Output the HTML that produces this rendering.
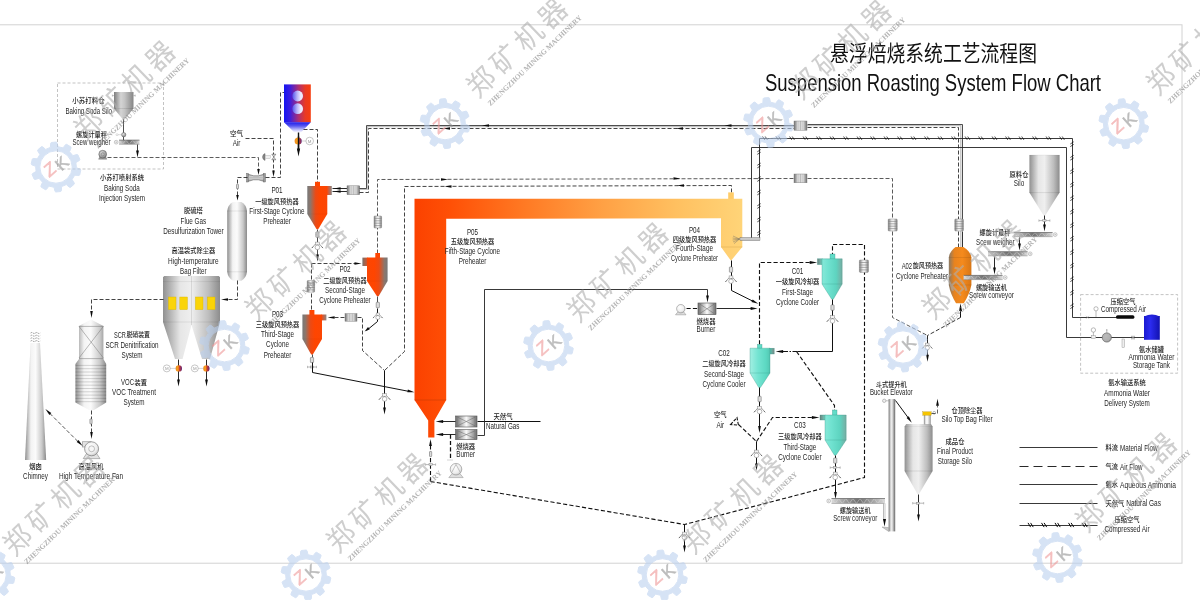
<!DOCTYPE html>
<html lang="zh">
<head>
<meta charset="utf-8">
<title>悬浮焙烧系统工艺流程图 Suspension Roasting System Flow Chart</title>
<style>
html,body{margin:0;padding:0;background:#fff;}
body{width:1200px;height:600px;overflow:hidden;}
svg{display:block;will-change:transform;font-family:"Liberation Sans","Noto Sans CJK SC",sans-serif;}
.wm{font-family:"Liberation Sans","Noto Sans CJK SC",sans-serif;}
.wms{font-family:"Liberation Serif","Noto Serif CJK SC",serif;}
</style>
</head>
<body>
<svg width="1200" height="600" viewBox="0 0 1200 600">
<defs>
<linearGradient id="gCyl" x1="0" x2="1" y1="0" y2="0">
 <stop offset="0" stop-color="#8f8f8f"/><stop offset="0.28" stop-color="#f3f3f3"/><stop offset="0.5" stop-color="#fbfbfb"/><stop offset="0.8" stop-color="#c9c9c9"/><stop offset="1" stop-color="#8a8a8a"/>
</linearGradient>
<linearGradient id="gCylB" x1="0" x2="1" y1="0" y2="0">
 <stop offset="0" stop-color="#909090"/><stop offset="0.3" stop-color="#e6e6e6"/><stop offset="0.5" stop-color="#efefef"/><stop offset="0.8" stop-color="#bdbdbd"/><stop offset="1" stop-color="#8c8c8c"/>
</linearGradient>
<linearGradient id="gCylD" x1="0" x2="1" y1="0" y2="0">
 <stop offset="0" stop-color="#7e7e7e"/><stop offset="0.35" stop-color="#d4d4d4"/><stop offset="0.55" stop-color="#c4c4c4"/><stop offset="1" stop-color="#858585"/>
</linearGradient>
<radialGradient id="gBallD" cx="0.4" cy="0.35" r="0.8">
 <stop offset="0" stop-color="#e4e4e4"/><stop offset="1" stop-color="#6c6c6c"/>
</radialGradient>
<linearGradient id="gCylH" x1="0" x2="1" y1="0" y2="0">
 <stop offset="0" stop-color="#7c7c7c"/><stop offset="0.4" stop-color="#f2f2f2"/><stop offset="0.6" stop-color="#f2f2f2"/><stop offset="1" stop-color="#7c7c7c"/>
</linearGradient>
<linearGradient id="gExH" x1="0" x2="1" y1="0" y2="0">
 <stop offset="0" stop-color="#6f6f6f"/><stop offset="0.35" stop-color="#eeeeee"/><stop offset="0.65" stop-color="#eeeeee"/><stop offset="1" stop-color="#6f6f6f"/>
</linearGradient>
<linearGradient id="gScrew" x1="0" x2="0" y1="0" y2="1">
 <stop offset="0" stop-color="#9a9a9a"/><stop offset="0.5" stop-color="#e6e6e6"/><stop offset="1" stop-color="#8a8a8a"/>
</linearGradient>
<linearGradient id="gScrewH" x1="0" x2="1" y1="0" y2="0">
 <stop offset="0" stop-color="#d8d8d8"/><stop offset="0.2" stop-color="#a8a8a8"/><stop offset="0.5" stop-color="#707070"/><stop offset="0.8" stop-color="#a8a8a8"/><stop offset="1" stop-color="#d8d8d8"/>
</linearGradient>
<linearGradient id="gElev" x1="0" x2="1" y1="0" y2="0">
 <stop offset="0" stop-color="#747474"/><stop offset="0.38" stop-color="#f0f0f0"/><stop offset="0.55" stop-color="#e0e0e0"/><stop offset="1" stop-color="#666666"/>
</linearGradient>
<linearGradient id="gBox" x1="0" x2="1" y1="0" y2="0">
 <stop offset="0" stop-color="#707070"/><stop offset="0.5" stop-color="#fafafa"/><stop offset="1" stop-color="#707070"/>
</linearGradient>
<radialGradient id="gBall" cx="0.4" cy="0.35" r="0.8">
 <stop offset="0" stop-color="#ffffff"/><stop offset="0.6" stop-color="#ededed"/><stop offset="1" stop-color="#b4b4b4"/>
</radialGradient>
<linearGradient id="gHot" x1="0" x2="1" y1="0" y2="0">
 <stop offset="0" stop-color="#f08a1c"/><stop offset="0.4" stop-color="#f5a020"/><stop offset="0.55" stop-color="#d84424"/><stop offset="1" stop-color="#5c2280"/>
</linearGradient>
<linearGradient id="gP" x1="0" x2="1" y1="0" y2="0">
 <stop offset="0" stop-color="#787878"/><stop offset="0.15" stop-color="#8c766c"/><stop offset="0.42" stop-color="#ec4a14"/><stop offset="0.65" stop-color="#ff4500"/><stop offset="1" stop-color="#fb4604"/>
</linearGradient>
<linearGradient id="gPI" x1="0" x2="1" y1="0" y2="0">
 <stop offset="0" stop-color="#f04a18"/><stop offset="1" stop-color="#8a8684"/>
</linearGradient>
<linearGradient id="gPL" x1="0" x2="1" y1="0" y2="0">
 <stop offset="0" stop-color="#fb4604"/><stop offset="0.35" stop-color="#ff4500"/><stop offset="0.58" stop-color="#ec4a14"/><stop offset="0.85" stop-color="#8c766c"/><stop offset="1" stop-color="#787878"/>
</linearGradient>
<linearGradient id="gPLI" x1="0" x2="1" y1="0" y2="0">
 <stop offset="0" stop-color="#77706c"/><stop offset="1" stop-color="#d4562c"/>
</linearGradient>
<linearGradient id="gC" x1="0" x2="1" y1="0" y2="0">
 <stop offset="0" stop-color="#a2efe2"/><stop offset="0.4" stop-color="#74e4d2"/><stop offset="0.8" stop-color="#5cd8c2"/><stop offset="1" stop-color="#54c6b2"/>
</linearGradient>
<linearGradient id="gCI" x1="0" x2="1" y1="0" y2="0">
 <stop offset="0" stop-color="#4fc9b4"/><stop offset="1" stop-color="#7d8a88"/>
</linearGradient>
<linearGradient id="gCL" x1="0" x2="1" y1="0" y2="0">
 <stop offset="0" stop-color="#86e8d8"/><stop offset="0.3" stop-color="#70e2d0"/><stop offset="0.7" stop-color="#5ed4c0"/><stop offset="1" stop-color="#78aca2"/>
</linearGradient>
<linearGradient id="gCLI" x1="0" x2="1" y1="0" y2="0">
 <stop offset="0" stop-color="#6f7f7c"/><stop offset="1" stop-color="#6fd4c2"/>
</linearGradient>
<linearGradient id="gDuct" gradientUnits="userSpaceOnUse" x1="414" x2="742" y1="0" y2="0">
 <stop offset="0" stop-color="#fb4100"/><stop offset="0.11" stop-color="#ff5006"/><stop offset="0.34" stop-color="#ff7a24"/><stop offset="0.57" stop-color="#ffa044"/><stop offset="0.8" stop-color="#ffc060"/><stop offset="1" stop-color="#ffd478"/>
</linearGradient>
<linearGradient id="gCol" gradientUnits="userSpaceOnUse" x1="414" x2="446" y1="0" y2="0">
 <stop offset="0" stop-color="#ff5a0c"/><stop offset="0.5" stop-color="#ff4a02"/><stop offset="1" stop-color="#fb4300"/>
</linearGradient>
<linearGradient id="gP4" x1="0" x2="1" y1="0" y2="0">
 <stop offset="0" stop-color="#ffc864"/><stop offset="0.6" stop-color="#ffd67c"/><stop offset="1" stop-color="#ffd070"/>
</linearGradient>
<linearGradient id="gBR" x1="0" x2="1" y1="0" y2="0">
 <stop offset="0" stop-color="#1414f2"/><stop offset="0.22" stop-color="#3a1ee0"/><stop offset="0.55" stop-color="#b03070"/><stop offset="0.8" stop-color="#ea3a22"/><stop offset="1" stop-color="#f63e10"/>
</linearGradient>
<linearGradient id="gBRc" x1="0" x2="0" y1="0" y2="1">
 <stop offset="0" stop-color="#1c1cec"/><stop offset="0.35" stop-color="#5656f0"/><stop offset="0.75" stop-color="#c8c8fa"/><stop offset="1" stop-color="#ffffff"/>
</linearGradient>
<linearGradient id="gLav" x1="0" x2="1" y1="0" y2="0">
 <stop offset="0" stop-color="#5252ee"/><stop offset="0.45" stop-color="#b8b4f8"/><stop offset="0.8" stop-color="#f0eeff"/><stop offset="1" stop-color="#e6dcf6"/>
</linearGradient>
<linearGradient id="gA02" x1="0" x2="1" y1="0" y2="0">
 <stop offset="0" stop-color="#8a7a66"/><stop offset="0.25" stop-color="#e8831e"/><stop offset="0.6" stop-color="#f58a1c"/><stop offset="1" stop-color="#d77616"/>
</linearGradient>
<linearGradient id="gTank" x1="0" x2="1" y1="0" y2="0">
 <stop offset="0" stop-color="#1a1ad0"/><stop offset="0.4" stop-color="#2b2bf0"/><stop offset="1" stop-color="#1212b0"/>
</linearGradient>
</defs>
<rect x="-10" y="24.8" width="1192" height="538.4" fill="#fff" stroke="#d2d2d2" stroke-width="1"/>
<text x="830" y="60.5" font-size="22" textLength="207" lengthAdjust="spacingAndGlyphs" fill="#111">悬浮焙烧系统工艺流程图</text>
<text x="765" y="91.4" font-size="24" textLength="336" lengthAdjust="spacingAndGlyphs" fill="#111">Suspension Roasting System Flow Chart</text>
<rect x="57.5" y="83" width="106" height="86" fill="none" stroke="#9a9a9a" stroke-width="0.6" stroke-dasharray="3 2"/>
<polygon points="114,92 133.5,92 133.5,108.5 124.3,119.8 123.1,119.8 114,108.5" fill="url(#gCylD)"/>
<line x1="114" y1="108.5" x2="133.5" y2="108.5" stroke="#00000030" stroke-width="0.5"/>
<path d="M112.4 95.6 H114 M133.5 95.6 H135.2 M112.4 94.6 V96.6 M135.2 94.6 V96.6" stroke="#888" stroke-width="0.5" fill="none"/>
<polyline points="123.5,119.5 123.5,140.5" fill="none" stroke="#222" stroke-width="0.8" />
<circle cx="123.7" cy="134.7" r="2.2" fill="url(#gBallD)" stroke="#555" stroke-width="0.4"/>
<circle cx="117" cy="134.7" r="1.0" fill="#fff" stroke="#aaa" stroke-width="0.4"/>
<line x1="118" y1="134.7" x2="121.5" y2="134.7" stroke="#aaa" stroke-width="0.4"/>
<rect x="119" y="140.1" width="20.5" height="4.2" fill="url(#gScrewH)"/>
<polyline points="119.0,140.1 122.4,144.3 125.8,140.1 129.2,144.3 132.7,140.1 136.1,144.3 139.5,140.1" fill="none" stroke="#e2e2e2" stroke-width="0.5" stroke-opacity="0.85"/>
<line x1="119" y1="140.1" x2="139.5" y2="140.1" stroke="#4c4c4c" stroke-width="0.6"/>
<line x1="119" y1="144.29999999999998" x2="139.5" y2="144.29999999999998" stroke="#8a8a8a" stroke-width="0.5"/>
<circle cx="116.2" cy="142.2" r="1.9" fill="#f0f0f0" stroke="#9a9a9a" stroke-width="0.5"/>
<circle cx="116.2" cy="142.2" r="0.6" fill="#aaa"/>
<polyline points="137.5,144.5 137.5,152.5" fill="none" stroke="#111" stroke-width="0.8" />
<polygon points="137.5,157.4 136.1,150.4 138.9,150.4" fill="#0c0c0c"/>
<polygon points="98.6,159.2 106.8,159.2 105.4,156.4 100,156.4" fill="#9a9a9a" stroke="#666" stroke-width="0.4"/>
<circle cx="102.7" cy="154.2" r="3.9" fill="url(#gBallD)" stroke="#5a5a5a" stroke-width="0.5"/>
<circle cx="102.7" cy="154.2" r="1.6" fill="#b8b8b8" stroke="#666" stroke-width="0.4"/>
<polyline points="107.5,157.5 258.5,157.5 258.5,169.5" fill="none" stroke="#4a4a4a" stroke-width="0.9" stroke-dasharray="4 2" />
<polygon points="258.5,175.0 257.2,169.0 259.8,169.0" fill="#0c0c0c"/>
<text x="72.2" y="102.8" font-size="7.0" font-weight="500" textLength="32.5" lengthAdjust="spacingAndGlyphs" fill="#1a1a1a" >小苏打料仓</text>
<text x="65.5" y="114.0" font-size="9.0" textLength="46.5" lengthAdjust="spacingAndGlyphs" fill="#262626" >Baking Soda Silo</text>
<text x="76.0" y="136.5" font-size="7.0" font-weight="500" textLength="31.0" lengthAdjust="spacingAndGlyphs" fill="#1a1a1a" >螺旋计量秤</text>
<text x="72.5" y="145.0" font-size="9.0" textLength="38.0" lengthAdjust="spacingAndGlyphs" fill="#262626" >Scew weigher</text>
<text x="100.0" y="179.5" font-size="7.0" font-weight="500" textLength="44.0" lengthAdjust="spacingAndGlyphs" fill="#1a1a1a" >小苏打喷射系统</text>
<text x="104.1" y="190.5" font-size="9.0" textLength="35.7" lengthAdjust="spacingAndGlyphs" fill="#262626" >Baking Soda</text>
<text x="98.9" y="200.5" font-size="9.0" textLength="46.2" lengthAdjust="spacingAndGlyphs" fill="#262626" >Injection System</text>
<text x="230.0" y="135.5" font-size="7.0" font-weight="500" textLength="13.0" lengthAdjust="spacingAndGlyphs" fill="#1a1a1a" >空气</text>
<text x="232.7" y="145.5" font-size="9.0" textLength="7.7" lengthAdjust="spacingAndGlyphs" fill="#262626" >Air</text>
<polyline points="245.5,138.5 273.5,138.5 273.5,171.5" fill="none" stroke="#222" stroke-width="0.85" stroke-dasharray="4 2" />
<polygon points="273.5,177.0 272.2,170.4 274.8,170.4" fill="#0c0c0c"/>
<path d="M265 153.6 A3.6 3.6 0 0 0 265 160.4 Z" fill="#8a8a8a" stroke="#555" stroke-width="0.5"/>
<rect x="265.4" y="155.4" width="4.8" height="3.2" fill="#f0f0f0" stroke="#aaa" stroke-width="0.4"/>
<polygon points="271.8,154.2 275.8,154.2 273.8,157 275.8,159.8 271.8,159.8 273.8,157" fill="#e4e4e4" stroke="#444" stroke-width="0.5"/>
<path d="M247.4 174 L253.6 175.8 L258.4 175.8 L264.6 174 L264.6 181.6 L258.4 179.8 L253.6 179.8 L247.4 181.6 Z" fill="url(#gScrew)" stroke="#555" stroke-width="0.5"/>
<rect x="246.6" y="173.6" width="1.6" height="8.4" fill="#9a9a9a" stroke="#555" stroke-width="0.4"/><rect x="263.8" y="173.6" width="1.6" height="8.4" fill="#9a9a9a" stroke="#555" stroke-width="0.4"/>
<line x1="249" y1="177.8" x2="263" y2="177.8" stroke="#666" stroke-width="0.4"/>
<polyline points="247.5,177.5 237.5,177.5 237.5,195.5" fill="none" stroke="#222" stroke-width="0.85" stroke-dasharray="4 2" />
<rect x="236.5" y="184.2" width="2.0" height="4.6" rx="0.6" fill="#dcdcdc" stroke="#6a6a6a" stroke-width="0.55"/>
<polygon points="237.5,200.5 236.2,195.0 238.8,195.0" fill="#0c0c0c"/>
<polyline points="265.5,177.5 280.5,177.5 280.5,92.5 284.5,92.5" fill="none" stroke="#222" stroke-width="0.85" stroke-dasharray="4 2" />
<rect x="284" y="84.4" width="26.8" height="38" fill="url(#gBR)"/>
<polygon points="284,122.2 310.8,122.2 300.7,132.7 294.7,132.7" fill="url(#gBRc)"/>
<circle cx="297.7" cy="96" r="5.4" fill="url(#gLav)"/><circle cx="297.7" cy="108.7" r="5.4" fill="url(#gLav)"/>
<polyline points="298.5,132.5 298.5,150.5" fill="none" stroke="#111" stroke-width="1.4" />
<polygon points="298.5,156.6 296.9,148.6 300.1,148.6" fill="#0c0c0c"/>
<circle cx="298.2" cy="141" r="3.6" fill="url(#gHot)"/>
<polyline points="298.5,136.5 298.5,150.5" fill="none" stroke="#111" stroke-width="1.4" />
<circle cx="309.7" cy="141" r="3.8" fill="#fff" stroke="#999" stroke-width="0.55"/>
<text x="309.7" y="142.6" font-size="4.4" text-anchor="middle" fill="#999">M</text>
<line x1="301.2" y1="141" x2="306" y2="141" stroke="#aaa" stroke-width="0.5"/>
<polyline points="303.5,129.5 317.5,129.5 317.5,182.5" fill="none" stroke="#222" stroke-width="0.85" stroke-dasharray="4 2" />
<rect x="315" y="181.8" width="5" height="4.699999999999989" fill="#ff4500"/>
<rect x="326.8" y="186" width="5.0" height="9" fill="url(#gPI)"/>
<polygon points="307.3,186.0 327.3,186.0 327.3,214.0 318.2,229.3 316.6,229.3 307.3,214.0" fill="url(#gP)"/>
<line x1="307.3" y1="214" x2="327.3" y2="214" stroke="#00000022" stroke-width="0.5" stroke-opacity="0.5"/>
<rect x="315.79999999999995" y="231.9" width="3.2" height="5.4" rx="0.6" fill="#dcdcdc" stroke="#6a6a6a" stroke-width="0.55"/>
<polyline points="317.5,229.5 317.5,231.5" fill="none" stroke="#222" stroke-width="0.8" />
<polyline points="317.5,237.5 317.5,256.5" fill="none" stroke="#222" stroke-width="0.8" />
<path d="M316.0 243.4 L312.0 247.9 M318.8 243.4 L322.8 247.9" stroke="#999" stroke-width="0.90" fill="none"/>
<path d="M311.8 248.1 l1.3 -1.4 M323.0 248.1 l-1.3 -1.4" stroke="#666" stroke-width="0.90" fill="none"/>
<rect x="315.5" y="242.1" width="3.8" height="2.8" fill="#f2f2f2" stroke="#8a8a8a" stroke-width="0.5"/>
<circle cx="317.4" cy="247.4" r="2.3" fill="#fff" stroke="#8a8a8a" stroke-width="0.6"/>
<polygon points="317.5,261.5 316.1,254.5 318.9,254.5" fill="#0c0c0c"/>
<text x="271.4" y="192.5" font-size="9.0" textLength="11.2" lengthAdjust="spacingAndGlyphs" fill="#262626" >P01</text>
<text x="255.2" y="203.5" font-size="7.0" font-weight="500" textLength="43.5" lengthAdjust="spacingAndGlyphs" fill="#1a1a1a" >一级旋风预热器</text>
<text x="249.3" y="214.0" font-size="9.0" textLength="55.3" lengthAdjust="spacingAndGlyphs" fill="#262626" >First-Stage Cyclone</text>
<text x="263.2" y="224.0" font-size="9.0" textLength="27.7" lengthAdjust="spacingAndGlyphs" fill="#262626" >Preheater</text>
<polyline points="332.5,188.5 347.5,188.5" fill="none" stroke="#111" stroke-width="0.9" />
<polyline points="332.5,191.5 347.5,191.5" fill="none" stroke="#111" stroke-width="0.9" />
<polygon points="333.6,188.5 340.6,187.2 340.6,189.8" fill="#0c0c0c"/>
<polygon points="333.6,191.5 340.6,190.2 340.6,192.8" fill="#0c0c0c"/>
<rect x="347" y="185.8" width="12.800000000000011" height="8.899999999999977" fill="url(#gExH)" stroke="#777" stroke-width="0.4"/>
<line x1="351.79999999999995" y1="185.8" x2="351.79999999999995" y2="194.7" stroke="#8a8a8a" stroke-width="0.5"/>
<line x1="353.4" y1="185.8" x2="353.4" y2="194.7" stroke="#8a8a8a" stroke-width="0.5"/>
<line x1="355.0" y1="185.8" x2="355.0" y2="194.7" stroke="#8a8a8a" stroke-width="0.5"/>
<polyline points="359.8,189.4 367.2,189.4 367.2,126.7 794.0,126.7" fill="none" stroke="#c2c2c2" stroke-width="1.3" />
<polyline points="807.0,125.6 960.8,125.6 960.8,219.0" fill="none" stroke="#c2c2c2" stroke-width="1.3" />
<polyline points="960.8,231.0 960.8,247.0" fill="none" stroke="#c2c2c2" stroke-width="1.3" />
<polyline points="359.5,188.5 366.5,188.5 366.5,125.5 794.5,125.5" fill="none" stroke="#444" stroke-width="0.95" />
<polyline points="359.5,192.5 368.5,192.5 368.5,128.5 794.5,128.5" fill="none" stroke="#222" stroke-width="0.85" stroke-dasharray="4 2" />
<rect x="794" y="121" width="13" height="9.199999999999989" fill="url(#gExH)" stroke="#777" stroke-width="0.4"/>
<line x1="798.9" y1="121" x2="798.9" y2="130.2" stroke="#8a8a8a" stroke-width="0.5"/>
<line x1="800.5" y1="121" x2="800.5" y2="130.2" stroke="#8a8a8a" stroke-width="0.5"/>
<line x1="802.1" y1="121" x2="802.1" y2="130.2" stroke="#8a8a8a" stroke-width="0.5"/>
<polyline points="807.5,124.5 962.5,124.5 962.5,219.5" fill="none" stroke="#444" stroke-width="0.95" />
<polyline points="807.5,127.5 958.5,127.5 958.5,219.5" fill="none" stroke="#222" stroke-width="0.85" stroke-dasharray="4 2" />
<rect x="954.8" y="219" width="8.600000000000023" height="12" rx="0.8" fill="url(#gCylH)" stroke="#777" stroke-width="0.4"/>
<line x1="954.8" y1="221.4" x2="963.4" y2="221.4" stroke="#7d7d7d" stroke-width="0.6"/>
<line x1="954.8" y1="223.8" x2="963.4" y2="223.8" stroke="#7d7d7d" stroke-width="0.6"/>
<line x1="954.8" y1="226.2" x2="963.4" y2="226.2" stroke="#7d7d7d" stroke-width="0.6"/>
<line x1="954.8" y1="228.6" x2="963.4" y2="228.6" stroke="#7d7d7d" stroke-width="0.6"/>
<polyline points="962.5,231.5 962.5,247.5" fill="none" stroke="#333" stroke-width="1.0" />
<polyline points="958.5,231.5 958.5,247.5" fill="none" stroke="#222" stroke-width="0.85" stroke-dasharray="4 2" />
<polygon points="482.0,125.5 489.0,124.2 489.0,126.8" fill="#0c0c0c"/>
<polygon points="724.5,125.5 731.5,124.2 731.5,126.8" fill="#0c0c0c"/>
<polygon points="443.0,128.5 450.0,127.2 450.0,129.8" fill="#0c0c0c"/>
<polygon points="676.0,128.5 683.0,127.2 683.0,129.8" fill="#0c0c0c"/>
<polyline points="377.5,253.5 377.5,179.5 794.5,178.5" fill="none" stroke="#5a5a5a" stroke-width="1.0" stroke-dasharray="4 2" />
<polyline points="807.5,178.5 892.5,178.5 892.5,219.5" fill="none" stroke="#5a5a5a" stroke-width="1.0" stroke-dasharray="4 2" />
<rect x="794" y="174" width="13" height="8.800000000000011" fill="url(#gExH)" stroke="#777" stroke-width="0.4"/>
<line x1="798.9" y1="174" x2="798.9" y2="182.8" stroke="#8a8a8a" stroke-width="0.5"/>
<line x1="800.5" y1="174" x2="800.5" y2="182.8" stroke="#8a8a8a" stroke-width="0.5"/>
<line x1="802.1" y1="174" x2="802.1" y2="182.8" stroke="#8a8a8a" stroke-width="0.5"/>
<rect x="374" y="216" width="7.600000000000023" height="12" rx="0.8" fill="url(#gCylH)" stroke="#777" stroke-width="0.4"/>
<line x1="374" y1="218.4" x2="381.6" y2="218.4" stroke="#7d7d7d" stroke-width="0.6"/>
<line x1="374" y1="220.8" x2="381.6" y2="220.8" stroke="#7d7d7d" stroke-width="0.6"/>
<line x1="374" y1="223.2" x2="381.6" y2="223.2" stroke="#7d7d7d" stroke-width="0.6"/>
<line x1="374" y1="225.6" x2="381.6" y2="225.6" stroke="#7d7d7d" stroke-width="0.6"/>
<rect x="888.2" y="219" width="9.0" height="12" rx="0.8" fill="url(#gCylH)" stroke="#777" stroke-width="0.4"/>
<line x1="888.2" y1="221.4" x2="897.2" y2="221.4" stroke="#7d7d7d" stroke-width="0.6"/>
<line x1="888.2" y1="223.8" x2="897.2" y2="223.8" stroke="#7d7d7d" stroke-width="0.6"/>
<line x1="888.2" y1="226.2" x2="897.2" y2="226.2" stroke="#7d7d7d" stroke-width="0.6"/>
<line x1="888.2" y1="228.6" x2="897.2" y2="228.6" stroke="#7d7d7d" stroke-width="0.6"/>
<polyline points="892.5,231.5 892.5,317.5 927.5,335.5" fill="none" stroke="#5a5a5a" stroke-width="1.0" stroke-dasharray="4 2" />
<polygon points="448.0,179.5 441.0,180.8 441.0,178.2" fill="#0c0c0c"/>
<polygon points="680.5,178.5 673.5,179.8 673.5,177.2" fill="#0c0c0c"/>
<polyline points="731.5,192.5 731.5,185.5 404.5,186.5 404.5,351.5 384.5,370.5" fill="none" stroke="#222" stroke-width="0.85" stroke-dasharray="4 2" />
<polygon points="444.5,186.5 451.5,185.2 451.5,187.8" fill="#0c0c0c"/>
<polygon points="677.0,185.5 684.0,184.2 684.0,186.8" fill="#0c0c0c"/>
<rect x="375.3" y="253" width="4.699999999999989" height="5.100000000000023" fill="#ff4500"/>
<rect x="362.4" y="257.6" width="5.100000000000023" height="8.399999999999977" fill="url(#gPLI)"/>
<polygon points="367.0,257.6 387.6,257.6 387.6,281.0 378.6,296.2 377.0,296.2 367.0,281.0" fill="url(#gPL)"/>
<line x1="367" y1="281" x2="387.6" y2="281" stroke="#00000022" stroke-width="0.5" stroke-opacity="0.5"/>
<text x="339.4" y="272.0" font-size="9.0" textLength="11.2" lengthAdjust="spacingAndGlyphs" fill="#262626" >P02</text>
<text x="323.2" y="283.0" font-size="7.0" font-weight="500" textLength="43.5" lengthAdjust="spacingAndGlyphs" fill="#1a1a1a" >二级旋风预热器</text>
<text x="325.0" y="293.0" font-size="9.0" textLength="39.9" lengthAdjust="spacingAndGlyphs" fill="#262626" >Second-Stage</text>
<text x="319.2" y="303.0" font-size="9.0" textLength="51.5" lengthAdjust="spacingAndGlyphs" fill="#262626" >Cyclone Preheater</text>
<polyline points="377.5,296.5 377.5,302.5" fill="none" stroke="#222" stroke-width="0.8" />
<rect x="376.2" y="302.3" width="3.2" height="5.4" rx="0.6" fill="#dcdcdc" stroke="#6a6a6a" stroke-width="0.55"/>
<polyline points="377.5,308.5 377.5,321.5 366.5,330.5" fill="none" stroke="#111" stroke-width="1.0" />
<path d="M376.6 314.1 L373.2 317.9 M379.0 314.1 L382.4 317.9" stroke="#999" stroke-width="0.77" fill="none"/>
<path d="M373.0 318.1 l1.1 -1.2 M382.6 318.1 l-1.1 -1.2" stroke="#666" stroke-width="0.77" fill="none"/>
<rect x="376.2" y="313.0" width="3.2" height="2.4" fill="#f2f2f2" stroke="#8a8a8a" stroke-width="0.5"/>
<circle cx="377.8" cy="317.5" r="2.0" fill="#fff" stroke="#8a8a8a" stroke-width="0.6"/>
<polygon points="364.6,331.6 368.0,327.1 369.8,329.2" fill="#0c0c0c"/>
<polyline points="311.5,263.5 355.5,263.5" fill="none" stroke="#222" stroke-width="0.85" stroke-dasharray="4 2" />
<polygon points="361.5,263.5 354.5,264.8 354.5,262.2" fill="#0c0c0c"/>
<polyline points="311.5,263.5 311.5,310.5" fill="none" stroke="#222" stroke-width="0.85" stroke-dasharray="4 2" />
<rect x="307.2" y="280.5" width="7.400000000000034" height="11.699999999999989" rx="0.8" fill="url(#gCylH)" stroke="#777" stroke-width="0.4"/>
<line x1="307.2" y1="282.8" x2="314.6" y2="282.8" stroke="#7d7d7d" stroke-width="0.6"/>
<line x1="307.2" y1="285.2" x2="314.6" y2="285.2" stroke="#7d7d7d" stroke-width="0.6"/>
<line x1="307.2" y1="287.5" x2="314.6" y2="287.5" stroke="#7d7d7d" stroke-width="0.6"/>
<line x1="307.2" y1="289.9" x2="314.6" y2="289.9" stroke="#7d7d7d" stroke-width="0.6"/>
<rect x="309.4" y="310" width="5.0" height="5.0" fill="#ff4500"/>
<rect x="321.5" y="314.5" width="4.899999999999977" height="5.899999999999977" fill="url(#gPI)"/>
<polygon points="302.4,314.5 322.0,314.5 322.0,339.0 312.8,354.6 311.2,354.6 302.4,339.0" fill="url(#gP)"/>
<line x1="302.4" y1="339" x2="322" y2="339" stroke="#00000022" stroke-width="0.5" stroke-opacity="0.5"/>
<text x="271.9" y="317.0" font-size="9.0" textLength="11.2" lengthAdjust="spacingAndGlyphs" fill="#262626" >P03</text>
<text x="255.8" y="326.5" font-size="7.0" font-weight="500" textLength="43.5" lengthAdjust="spacingAndGlyphs" fill="#1a1a1a" >三级旋风预热器</text>
<text x="261.0" y="337.0" font-size="9.0" textLength="32.9" lengthAdjust="spacingAndGlyphs" fill="#262626" >Third-Stage</text>
<text x="266.1" y="347.0" font-size="9.0" textLength="22.8" lengthAdjust="spacingAndGlyphs" fill="#262626" >Cyclone</text>
<text x="263.7" y="357.5" font-size="9.0" textLength="27.7" lengthAdjust="spacingAndGlyphs" fill="#262626" >Preheater</text>
<polyline points="334.5,317.5 345.5,317.5" fill="none" stroke="#222" stroke-width="0.85" stroke-dasharray="4 2" />
<polygon points="327.6,317.5 334.6,316.2 334.6,318.8" fill="#0c0c0c"/>
<rect x="345" y="313.6" width="12" height="7.599999999999966" fill="url(#gExH)" stroke="#777" stroke-width="0.4"/>
<line x1="349.4" y1="313.6" x2="349.4" y2="321.2" stroke="#8a8a8a" stroke-width="0.5"/>
<line x1="351.0" y1="313.6" x2="351.0" y2="321.2" stroke="#8a8a8a" stroke-width="0.5"/>
<line x1="352.6" y1="313.6" x2="352.6" y2="321.2" stroke="#8a8a8a" stroke-width="0.5"/>
<polyline points="357.5,317.5 362.5,317.5 362.5,350.5 384.5,370.5" fill="none" stroke="#222" stroke-width="0.85" stroke-dasharray="4 2" />
<polyline points="312.5,354.5 312.5,357.5" fill="none" stroke="#222" stroke-width="0.8" />
<rect x="310.4" y="357.4" width="3.2" height="5.2" rx="0.6" fill="#dcdcdc" stroke="#6a6a6a" stroke-width="0.55"/>
<line x1="307.5" y1="367" x2="316.5" y2="367" stroke="#888" stroke-width="0.6"/>
<rect x="310.4" y="366" width="3.2" height="2" fill="#ddd" stroke="#777" stroke-width="0.4"/>
<line x1="307.5" y1="365.8" x2="307.5" y2="368.2" stroke="#888" stroke-width="0.5"/>
<line x1="316.5" y1="365.8" x2="316.5" y2="368.2" stroke="#888" stroke-width="0.5"/>
<polyline points="312.5,362.5 312.5,372.5 409.5,391.5" fill="none" stroke="#111" stroke-width="1.0" />
<polygon points="414.5,392.2 407.4,392.3 407.9,389.5" fill="#0c0c0c"/>
<polyline points="384.5,370.5 384.5,409.5" fill="none" stroke="#111" stroke-width="1.0" />
<path d="M383.2 395.0 L379.2 399.5 M386.0 395.0 L390.0 399.5" stroke="#999" stroke-width="0.90" fill="none"/>
<path d="M379.0 399.7 l1.3 -1.4 M390.2 399.7 l-1.3 -1.4" stroke="#666" stroke-width="0.90" fill="none"/>
<rect x="382.7" y="393.7" width="3.8" height="2.8" fill="#f2f2f2" stroke="#8a8a8a" stroke-width="0.5"/>
<circle cx="384.6" cy="399.0" r="2.3" fill="#fff" stroke="#8a8a8a" stroke-width="0.6"/>
<polygon points="384.5,414.5 383.1,407.5 385.9,407.5" fill="#0c0c0c"/>
<rect x="728.2" y="192.4" width="5.6" height="6.6" fill="#ffcc68"/>
<polygon points="414.5,198.8 742.3,198.8 742.3,247 731.4,260.2 730.6,260.2 721,247 721,218.2 446.2,218.8 446.2,400 414.5,400" fill="url(#gDuct)"/>
<polygon points="414.5,400 446.2,400 434.4,420.4 434.4,437.4 428.2,437.4 428.2,420.4" fill="url(#gDuct)"/>
<line x1="414.5" y1="400" x2="446.2" y2="400" stroke="#c23a06" stroke-width="0.5"/>
<line x1="721" y1="247" x2="742.3" y2="247" stroke="#d9a850" stroke-width="0.5"/>
<text x="466.9" y="235.0" font-size="9.0" textLength="11.2" lengthAdjust="spacingAndGlyphs" fill="#262626" >P05</text>
<text x="450.8" y="243.8" font-size="7.0" font-weight="500" textLength="43.5" lengthAdjust="spacingAndGlyphs" fill="#1a1a1a" >五级旋风预热器</text>
<text x="444.8" y="254.0" font-size="9.0" textLength="55.3" lengthAdjust="spacingAndGlyphs" fill="#262626" >Fifth-Stage Cyclone</text>
<text x="458.7" y="263.5" font-size="9.0" textLength="27.7" lengthAdjust="spacingAndGlyphs" fill="#262626" >Preheater</text>
<text x="688.9" y="232.5" font-size="9.0" textLength="11.2" lengthAdjust="spacingAndGlyphs" fill="#262626" >P04</text>
<text x="672.8" y="241.5" font-size="7.0" font-weight="500" textLength="43.5" lengthAdjust="spacingAndGlyphs" fill="#1a1a1a" >四级旋风预热器</text>
<text x="676.1" y="251.3" font-size="9.0" textLength="36.8" lengthAdjust="spacingAndGlyphs" fill="#262626" >Fourth-Stage</text>
<text x="671.0" y="260.6" font-size="9.0" textLength="47.0" lengthAdjust="spacingAndGlyphs" fill="#262626" >Cyclone Preheater</text>
<polyline points="731.5,260.5 731.5,290.5 753.5,301.5" fill="none" stroke="#111" stroke-width="1.0" />
<rect x="729.4" y="266.90000000000003" width="3.2" height="5.4" rx="0.6" fill="#dcdcdc" stroke="#6a6a6a" stroke-width="0.55"/>
<path d="M729.6 277.2 L725.6 281.7 M732.4 277.2 L736.4 281.7" stroke="#999" stroke-width="0.90" fill="none"/>
<path d="M725.4 281.9 l1.3 -1.4 M736.6 281.9 l-1.3 -1.4" stroke="#666" stroke-width="0.90" fill="none"/>
<rect x="729.1" y="275.9" width="3.8" height="2.8" fill="#f2f2f2" stroke="#8a8a8a" stroke-width="0.5"/>
<circle cx="731" cy="281.2" r="2.3" fill="#fff" stroke="#8a8a8a" stroke-width="0.6"/>
<polygon points="758.3,303.8 751.4,301.9 752.7,299.4" fill="#0c0c0c"/>
<rect x="455.6" y="416" width="21.399999999999977" height="11" fill="url(#gBox)" stroke="#555" stroke-width="0.6"/>
<line x1="457.6" y1="417.2" x2="475" y2="425.8" stroke="#666" stroke-width="0.5"/>
<line x1="457.6" y1="425.8" x2="475" y2="417.2" stroke="#666" stroke-width="0.5"/>
<line x1="457.6" y1="416" x2="457.6" y2="427" stroke="#777" stroke-width="0.4"/>
<line x1="475" y1="416" x2="475" y2="427" stroke="#777" stroke-width="0.4"/>
<rect x="455.6" y="429.6" width="21.399999999999977" height="10.0" fill="url(#gBox)" stroke="#555" stroke-width="0.6"/>
<line x1="457.6" y1="430.8" x2="475" y2="438.40000000000003" stroke="#666" stroke-width="0.5"/>
<line x1="457.6" y1="438.40000000000003" x2="475" y2="430.8" stroke="#666" stroke-width="0.5"/>
<line x1="457.6" y1="429.6" x2="457.6" y2="439.6" stroke="#777" stroke-width="0.4"/>
<line x1="475" y1="429.6" x2="475" y2="439.6" stroke="#777" stroke-width="0.4"/>
<polyline points="442.5,421.5 455.5,421.5" fill="none" stroke="#111" stroke-width="0.9" />
<polyline points="442.5,434.5 455.5,434.5" fill="none" stroke="#111" stroke-width="0.9" />
<polygon points="435.6,421.5 443.1,420.0 443.1,423.0" fill="#0c0c0c"/>
<polygon points="435.6,434.5 443.1,433.0 443.1,436.0" fill="#0c0c0c"/>
<polyline points="477.5,421.5 540.5,421.5" fill="none" stroke="#111" stroke-width="1.0" />
<polyline points="477.5,435.5 484.5,435.5 484.5,289.5 707.5,289.5 707.5,297.5" fill="none" stroke="#222" stroke-width="0.9" />
<polygon points="707.5,302.6 706.1,295.6 708.9,295.6" fill="#0c0c0c"/>
<text x="493.5" y="418.5" font-size="7.0" font-weight="500" textLength="19.0" lengthAdjust="spacingAndGlyphs" fill="#1a1a1a" >天然气</text>
<text x="486.0" y="429.0" font-size="9.0" textLength="33.5" lengthAdjust="spacingAndGlyphs" fill="#262626" >Natural Gas</text>
<text x="456.2" y="448.5" font-size="7.0" font-weight="500" textLength="19.0" lengthAdjust="spacingAndGlyphs" fill="#1a1a1a" >燃烧器</text>
<text x="456.2" y="457.3" font-size="9.0" textLength="18.9" lengthAdjust="spacingAndGlyphs" fill="#262626" >Burner</text>
<polyline points="450.5,434.5 450.5,459.5" fill="none" stroke="#111" stroke-width="1.25" stroke-dasharray="4.2 2.2" />
<line x1="447" y1="460" x2="453" y2="460" stroke="#aaa" stroke-width="0.5"/>
<polygon points="448.8,477.6 463.2,477.6 458.9,472.4 453.1,472.4" fill="#dedede" stroke="#8a8a8a" stroke-width="0.5"/>
<circle cx="456" cy="469.2" r="5.8" fill="url(#gBall)" stroke="#8a8a8a" stroke-width="0.6"/>
<path d="M456 464.4 L451.6 472.6 M456 464.4 L460.4 472.6" stroke="#9a9a9a" stroke-width="0.6" fill="none"/>
<polyline points="430.5,481.5 430.5,445.5" fill="none" stroke="#111" stroke-width="1.1" stroke-dasharray="4.2 2.2" />
<polygon points="430.5,439.0 431.9,446.0 429.1,446.0" fill="#0c0c0c"/>
<rect x="429.5" y="451.4" width="2.2" height="5.2" rx="0.6" fill="#dcdcdc" stroke="#6a6a6a" stroke-width="0.55"/>
<line x1="425.6" y1="464.6" x2="435.6" y2="464.6" stroke="#888" stroke-width="0.6"/>
<rect x="429.0" y="463.6" width="3.2" height="2" fill="#ddd" stroke="#777" stroke-width="0.4"/>
<line x1="425.6" y1="463.40000000000003" x2="425.6" y2="465.8" stroke="#888" stroke-width="0.5"/>
<line x1="435.6" y1="463.40000000000003" x2="435.6" y2="465.8" stroke="#888" stroke-width="0.5"/>
<polyline points="430.5,481.5 684.5,524.5 864.5,477.5 864.5,244.5 832.5,244.5 832.5,254.5" fill="none" stroke="#111" stroke-width="1.12" stroke-dasharray="4.2 2.2" />
<rect x="859.4" y="260" width="9.0" height="12.399999999999977" rx="0.8" fill="url(#gCylH)" stroke="#777" stroke-width="0.4"/>
<line x1="859.4" y1="262.5" x2="868.4" y2="262.5" stroke="#7d7d7d" stroke-width="0.6"/>
<line x1="859.4" y1="265.0" x2="868.4" y2="265.0" stroke="#7d7d7d" stroke-width="0.6"/>
<line x1="859.4" y1="267.4" x2="868.4" y2="267.4" stroke="#7d7d7d" stroke-width="0.6"/>
<line x1="859.4" y1="269.9" x2="868.4" y2="269.9" stroke="#7d7d7d" stroke-width="0.6"/>
<polyline points="684.5,524.5 684.5,547.5" fill="none" stroke="#111" stroke-width="1.0" />
<path d="M683.1 533.4 L679.1 537.9 M685.9 533.4 L689.9 537.9" stroke="#999" stroke-width="0.90" fill="none"/>
<path d="M678.9 538.1 l1.3 -1.4 M690.1 538.1 l-1.3 -1.4" stroke="#666" stroke-width="0.90" fill="none"/>
<rect x="682.6" y="532.1" width="3.8" height="2.8" fill="#f2f2f2" stroke="#8a8a8a" stroke-width="0.5"/>
<circle cx="684.5" cy="537.4" r="2.3" fill="#fff" stroke="#8a8a8a" stroke-width="0.6"/>
<polygon points="684.5,552.6 683.1,545.6 685.9,545.6" fill="#0c0c0c"/>
<polygon points="675.5,314.8 686.0,314.8 682.9,311.0 678.7,311.0" fill="#dedede" stroke="#8a8a8a" stroke-width="0.5"/>
<circle cx="680.8" cy="308.7" r="4.2" fill="url(#gBall)" stroke="#8a8a8a" stroke-width="0.6"/>
<polyline points="686.5,308.5 698.5,308.5" fill="none" stroke="#111" stroke-width="1.0" stroke-dasharray="4.2 2.2" />
<rect x="698" y="303" width="18" height="11.600000000000023" fill="url(#gBox)" stroke="#555" stroke-width="0.6"/>
<line x1="700" y1="304.2" x2="714" y2="313.40000000000003" stroke="#666" stroke-width="0.5"/>
<line x1="700" y1="313.40000000000003" x2="714" y2="304.2" stroke="#666" stroke-width="0.5"/>
<line x1="700" y1="303" x2="700" y2="314.6" stroke="#777" stroke-width="0.4"/>
<line x1="714" y1="303" x2="714" y2="314.6" stroke="#777" stroke-width="0.4"/>
<polyline points="716.5,308.5 752.5,308.5" fill="none" stroke="#111" stroke-width="0.9" />
<polygon points="757.6,308.5 750.6,309.9 750.6,307.1" fill="#0c0c0c"/>
<text x="696.5" y="324.0" font-size="7.0" font-weight="500" textLength="19.0" lengthAdjust="spacingAndGlyphs" fill="#1a1a1a" >燃烧器</text>
<text x="696.5" y="332.3" font-size="9.0" textLength="18.9" lengthAdjust="spacingAndGlyphs" fill="#262626" >Burner</text>
<polyline points="759.5,344.5 759.5,262.5 811.5,262.5" fill="none" stroke="#111" stroke-width="1.12" stroke-dasharray="4.2 2.2" />
<polygon points="817.2,262.5 809.7,264.0 809.7,261.0" fill="#0c0c0c"/>
<rect x="830" y="254" width="5" height="5.300000000000011" fill="#62dcc8" stroke="#2e8e80" stroke-width="0.45" stroke-opacity="0.7"/>
<rect x="817.4" y="258.8" width="5.100000000000023" height="5.800000000000011" fill="url(#gCLI)" stroke="#2e8e80" stroke-width="0.45" stroke-opacity="0.7"/>
<polygon points="822.0,258.8 842.2,258.8 842.2,284.0 833.3,299.2 831.7,299.2 822.0,284.0" fill="url(#gCL)" stroke="#2e8e80" stroke-width="0.45" stroke-opacity="0.7"/>
<line x1="822" y1="284" x2="842.2" y2="284" stroke="#2e8e80" stroke-width="0.5" stroke-opacity="0.5"/>
<text x="791.7" y="274.0" font-size="9.0" textLength="11.6" lengthAdjust="spacingAndGlyphs" fill="#262626" >C01</text>
<text x="775.8" y="283.5" font-size="7.0" font-weight="500" textLength="43.5" lengthAdjust="spacingAndGlyphs" fill="#1a1a1a" >一级旋风冷却器</text>
<text x="782.1" y="295.0" font-size="9.0" textLength="30.8" lengthAdjust="spacingAndGlyphs" fill="#262626" >First-Stage</text>
<text x="776.0" y="305.0" font-size="9.0" textLength="43.1" lengthAdjust="spacingAndGlyphs" fill="#262626" >Cyclone Cooler</text>
<polyline points="832.5,299.5 832.5,351.5 797.5,351.5" fill="none" stroke="#111" stroke-width="1.0" />
<rect x="830.9" y="304.90000000000003" width="3.2" height="5.4" rx="0.6" fill="#dcdcdc" stroke="#6a6a6a" stroke-width="0.55"/>
<path d="M831.1 317.0 L827.1 321.5 M833.9 317.0 L837.9 321.5" stroke="#999" stroke-width="0.90" fill="none"/>
<path d="M826.9 321.7 l1.3 -1.4 M838.1 321.7 l-1.3 -1.4" stroke="#666" stroke-width="0.90" fill="none"/>
<rect x="830.6" y="315.7" width="3.8" height="2.8" fill="#f2f2f2" stroke="#8a8a8a" stroke-width="0.5"/>
<circle cx="832.5" cy="321.0" r="2.3" fill="#fff" stroke="#8a8a8a" stroke-width="0.6"/>
<polyline points="797.5,351.5 782.5,351.5" fill="none" stroke="#111" stroke-width="1.2" stroke-dasharray="5 1.5 1.5 1.5" />
<polygon points="775.6,351.5 783.1,350.0 783.1,353.0" fill="#0c0c0c"/>
<polyline points="796.5,351.5 834.5,405.5 834.5,410.5" fill="none" stroke="#111" stroke-width="1.12" stroke-dasharray="4.2 2.2" />
<rect x="757.4" y="344.4" width="4.600000000000023" height="4.300000000000011" fill="#62dcc8" stroke="#2e8e80" stroke-width="0.45" stroke-opacity="0.7"/>
<rect x="769.5" y="348.2" width="4.7000000000000455" height="5.800000000000011" fill="url(#gCI)" stroke="#2e8e80" stroke-width="0.45" stroke-opacity="0.7"/>
<polygon points="750.0,348.2 770.0,348.2 770.0,373.0 760.4,387.6 758.8,387.6 750.0,373.0" fill="url(#gC)" stroke="#2e8e80" stroke-width="0.45" stroke-opacity="0.7"/>
<line x1="750" y1="373" x2="770" y2="373" stroke="#2e8e80" stroke-width="0.5" stroke-opacity="0.5"/>
<text x="718.2" y="356.0" font-size="9.0" textLength="11.6" lengthAdjust="spacingAndGlyphs" fill="#262626" >C02</text>
<text x="702.2" y="365.5" font-size="7.0" font-weight="500" textLength="43.5" lengthAdjust="spacingAndGlyphs" fill="#1a1a1a" >二级旋风冷却器</text>
<text x="704.0" y="377.0" font-size="9.0" textLength="39.9" lengthAdjust="spacingAndGlyphs" fill="#262626" >Second-Stage</text>
<text x="702.5" y="387.0" font-size="9.0" textLength="43.1" lengthAdjust="spacingAndGlyphs" fill="#262626" >Cyclone Cooler</text>
<polyline points="759.5,387.5 759.5,427.5" fill="none" stroke="#111" stroke-width="1.0" />
<rect x="758.0" y="396.3" width="3.2" height="5.4" rx="0.6" fill="#dcdcdc" stroke="#6a6a6a" stroke-width="0.55"/>
<path d="M758.2 407.6 L754.2 412.1 M761.0 407.6 L765.0 412.1" stroke="#999" stroke-width="0.90" fill="none"/>
<path d="M754.0 412.3 l1.3 -1.4 M765.2 412.3 l-1.3 -1.4" stroke="#666" stroke-width="0.90" fill="none"/>
<rect x="757.7" y="406.3" width="3.8" height="2.8" fill="#f2f2f2" stroke="#8a8a8a" stroke-width="0.5"/>
<circle cx="759.6" cy="411.6" r="2.3" fill="#fff" stroke="#8a8a8a" stroke-width="0.6"/>
<polygon points="759.5,433.0 758.1,426.0 760.9,426.0" fill="#0c0c0c"/>
<text x="713.9" y="417.1" font-size="7.0" font-weight="500" textLength="12.6" lengthAdjust="spacingAndGlyphs" fill="#1a1a1a" >空气</text>
<text x="716.4" y="427.6" font-size="9.0" textLength="7.7" lengthAdjust="spacingAndGlyphs" fill="#262626" >Air</text>
<polygon points="730.6,424.6 737,417.6 738.4,425" fill="none" stroke="#111" stroke-width="1.1" stroke-dasharray="3.2 1.4"/>
<polyline points="738.5,424.5 756.5,441.5" fill="none" stroke="#111" stroke-width="1.12" stroke-dasharray="4.2 2.2" />
<polyline points="756.5,441.5 772.5,417.5 813.5,417.5" fill="none" stroke="#111" stroke-width="1.12" stroke-dasharray="4.2 2.2" />
<polygon points="819.4,417.5 811.9,419.0 811.9,416.0" fill="#0c0c0c"/>
<polyline points="756.5,441.5 756.5,465.5" fill="none" stroke="#111" stroke-width="1.0" />
<path d="M755.1 451.4 L751.1 455.9 M757.9 451.4 L761.9 455.9" stroke="#999" stroke-width="0.90" fill="none"/>
<path d="M750.9 456.1 l1.3 -1.4 M762.1 456.1 l-1.3 -1.4" stroke="#666" stroke-width="0.90" fill="none"/>
<rect x="754.6" y="450.1" width="3.8" height="2.8" fill="#f2f2f2" stroke="#8a8a8a" stroke-width="0.5"/>
<circle cx="756.5" cy="455.4" r="2.3" fill="#fff" stroke="#8a8a8a" stroke-width="0.6"/>
<polygon points="756.5,470.6 755.1,463.6 757.9,463.6" fill="#0c0c0c"/>
<rect x="832.4" y="410" width="4.600000000000023" height="5.5" fill="#62dcc8" stroke="#2e8e80" stroke-width="0.45" stroke-opacity="0.7"/>
<rect x="820" y="415" width="5.5" height="5" fill="url(#gCLI)" stroke="#2e8e80" stroke-width="0.45" stroke-opacity="0.7"/>
<polygon points="825.0,415.0 846.2,415.0 846.2,440.0 836.0,455.2 834.4,455.2 825.0,440.0" fill="url(#gCL)" stroke="#2e8e80" stroke-width="0.45" stroke-opacity="0.7"/>
<line x1="825" y1="440" x2="846.2" y2="440" stroke="#2e8e80" stroke-width="0.5" stroke-opacity="0.5"/>
<text x="794.1" y="428.0" font-size="9.0" textLength="11.6" lengthAdjust="spacingAndGlyphs" fill="#262626" >C03</text>
<text x="778.0" y="438.5" font-size="7.0" font-weight="500" textLength="43.8" lengthAdjust="spacingAndGlyphs" fill="#1a1a1a" >三级旋风冷却器</text>
<text x="783.4" y="449.7" font-size="9.0" textLength="32.9" lengthAdjust="spacingAndGlyphs" fill="#262626" >Third-Stage</text>
<text x="778.2" y="459.8" font-size="9.0" textLength="43.3" lengthAdjust="spacingAndGlyphs" fill="#262626" >Cyclone Cooler</text>
<polyline points="835.5,455.5 835.5,493.5" fill="none" stroke="#111" stroke-width="1.0" />
<rect x="833.6" y="458.0" width="3.2" height="5.2" rx="0.6" fill="#dcdcdc" stroke="#6a6a6a" stroke-width="0.55"/>
<line x1="830.2" y1="467.6" x2="840.2" y2="467.6" stroke="#888" stroke-width="0.6"/>
<rect x="833.6" y="466.6" width="3.2" height="2" fill="#ddd" stroke="#777" stroke-width="0.4"/>
<line x1="830.2" y1="466.40000000000003" x2="830.2" y2="468.8" stroke="#888" stroke-width="0.5"/>
<line x1="840.2" y1="466.40000000000003" x2="840.2" y2="468.8" stroke="#888" stroke-width="0.5"/>
<path d="M833.8 473.4 L829.8 477.9 M836.6 473.4 L840.6 477.9" stroke="#999" stroke-width="0.90" fill="none"/>
<path d="M829.6 478.1 l1.3 -1.4 M840.8 478.1 l-1.3 -1.4" stroke="#666" stroke-width="0.90" fill="none"/>
<rect x="833.3" y="472.1" width="3.8" height="2.8" fill="#f2f2f2" stroke="#8a8a8a" stroke-width="0.5"/>
<circle cx="835.2" cy="477.4" r="2.3" fill="#fff" stroke="#8a8a8a" stroke-width="0.6"/>
<polygon points="835.5,499.0 834.1,492.0 836.9,492.0" fill="#0c0c0c"/>
<rect x="831.5" y="498.5" width="53.5" height="5" fill="url(#gScrewH)"/>
<polyline points="831.5,498.5 835.1,503.5 838.6,498.5 842.2,503.5 845.8,498.5 849.3,503.5 852.9,498.5 856.5,503.5 860.0,498.5 863.6,503.5 867.2,498.5 870.7,503.5 874.3,498.5 877.9,503.5 881.4,498.5 885.0,503.5" fill="none" stroke="#e2e2e2" stroke-width="0.5" stroke-opacity="0.85"/>
<line x1="831.5" y1="498.5" x2="885" y2="498.5" stroke="#4c4c4c" stroke-width="0.6"/>
<line x1="831.5" y1="503.5" x2="885" y2="503.5" stroke="#8a8a8a" stroke-width="0.5"/>
<circle cx="828.7" cy="501" r="1.9" fill="#f0f0f0" stroke="#9a9a9a" stroke-width="0.5"/>
<circle cx="828.7" cy="501" r="0.6" fill="#aaa"/>
<rect x="883.2" y="503.4" width="2" height="17" fill="url(#gCylH)"/>
<polygon points="884.5,526.4 883.0,518.9 886.0,518.9" fill="#0c0c0c"/>
<text x="839.8" y="512.9" font-size="7.0" font-weight="500" textLength="30.8" lengthAdjust="spacingAndGlyphs" fill="#1a1a1a" >螺旋输送机</text>
<text x="833.2" y="521.0" font-size="9.0" textLength="44.0" lengthAdjust="spacingAndGlyphs" fill="#262626" >Screw conveyor</text>
<rect x="888.6" y="399" width="6.6" height="132.4" fill="url(#gElev)"/>
<circle cx="884.2" cy="400.8" r="1.7" fill="#eee" stroke="#888" stroke-width="0.5"/>
<line x1="886" y1="400.8" x2="889" y2="400.8" stroke="#888" stroke-width="0.5"/>
<polyline points="895.5,400.5 909.5,419.5" fill="none" stroke="#111" stroke-width="1.0" />
<polygon points="911.8,422.8 906.6,418.0 908.8,416.3" fill="#0c0c0c"/>
<polygon points="882,527 888.6,527.6 888.6,531.4" fill="#c8c8c8" stroke="#888" stroke-width="0.4"/>
<text x="875.8" y="386.5" font-size="7.0" font-weight="500" textLength="31.0" lengthAdjust="spacingAndGlyphs" fill="#1a1a1a" >斗式提升机</text>
<text x="869.9" y="395.0" font-size="9.0" textLength="42.7" lengthAdjust="spacingAndGlyphs" fill="#262626" >Bucket Elevator</text>
<polygon points="906.2,424.0 931.0,424.0 932.6,426.6 932.6,471.0 919.0,494.0 917.4,494.0 904.6,471.0 904.6,426.6" fill="url(#gCylB)"/>
<line x1="904.6" y1="471" x2="932.6" y2="471" stroke="#00000030" stroke-width="0.5"/>
<line x1="904.6" y1="426.56" x2="932.6" y2="426.56" stroke="#00000018" stroke-width="0.5"/>
<rect x="924" y="414.6" width="6.6" height="9.6" fill="url(#gCyl)" stroke="#999" stroke-width="0.3"/>
<rect x="922.8" y="411.8" width="8.4" height="3.4" fill="#f5c400" stroke="#b08a00" stroke-width="0.3"/>
<circle cx="934.2" cy="412.8" r="1.4" fill="#fff" stroke="#777" stroke-width="0.5"/>
<polyline points="931.5,413.5 937.5,413.5 937.5,405.5" fill="none" stroke="#222" stroke-width="0.7" stroke-dasharray="4 2" />
<polygon points="937.5,398.8 938.9,405.8 936.1,405.8" fill="#0c0c0c"/>
<polyline points="918.5,494.5 918.5,516.5" fill="none" stroke="#111" stroke-width="0.9" />
<line x1="912.7" y1="503.2" x2="923.7" y2="503.2" stroke="#888" stroke-width="0.6"/>
<rect x="916.6" y="502.2" width="3.2" height="2" fill="#ddd" stroke="#777" stroke-width="0.4"/>
<line x1="912.7" y1="502.0" x2="912.7" y2="504.4" stroke="#888" stroke-width="0.5"/>
<line x1="923.7" y1="502.0" x2="923.7" y2="504.4" stroke="#888" stroke-width="0.5"/>
<polygon points="918.5,521.6 917.1,514.6 919.9,514.6" fill="#0c0c0c"/>
<text x="951.5" y="413.1" font-size="7.0" font-weight="500" textLength="31.0" lengthAdjust="spacingAndGlyphs" fill="#1a1a1a" >仓顶除尘器</text>
<text x="941.5" y="421.6" font-size="9.0" textLength="51.0" lengthAdjust="spacingAndGlyphs" fill="#262626" >Silo Top Bag Filter</text>
<text x="945.5" y="443.5" font-size="7.0" font-weight="500" textLength="19.0" lengthAdjust="spacingAndGlyphs" fill="#1a1a1a" >成品仓</text>
<text x="937.0" y="454.0" font-size="9.0" textLength="36.0" lengthAdjust="spacingAndGlyphs" fill="#262626" >Final Product</text>
<text x="937.8" y="464.0" font-size="9.0" textLength="34.3" lengthAdjust="spacingAndGlyphs" fill="#262626" >Storage Silo</text>
<path d="M955.6 247 L963.4 247 Q970.6 251.4 971.4 257.5 L971.4 285 Q969.6 294 963.8 303.2 L956 303.2 Q950.4 294 948.8 285 L948.8 257.5 Q949.6 251.4 955.6 247 Z" fill="url(#gA02)"/>
<line x1="948.8" y1="257.5" x2="971.4" y2="257.5" stroke="#00000028" stroke-width="0.5"/><line x1="948.8" y1="285" x2="971.4" y2="285" stroke="#00000028" stroke-width="0.5"/>
<text x="901.7" y="268.6" font-size="9" textLength="10.4" lengthAdjust="spacingAndGlyphs" fill="#262626" >A02</text>
<text x="912.7" y="267.9" font-size="7.0" font-weight="500" textLength="30.5" lengthAdjust="spacingAndGlyphs" fill="#1a1a1a" >旋风预热器</text>
<text x="896.0" y="278.8" font-size="9.0" textLength="52.0" lengthAdjust="spacingAndGlyphs" fill="#262626" >Cyclone Preheater</text>
<polyline points="960.5,317.5 960.5,310.5" fill="none" stroke="#111" stroke-width="1.0" />
<polygon points="960.5,303.6 962.0,311.1 959.0,311.1" fill="#0c0c0c"/>
<polyline points="960.5,317.5 927.5,335.5" fill="none" stroke="#222" stroke-width="0.9" stroke-dasharray="4 2" />
<polyline points="927.5,335.5 927.5,356.5" fill="none" stroke="#111" stroke-width="0.9" />
<path d="M926.0 344.3 L922.4 348.3 M928.6 344.3 L932.2 348.3" stroke="#999" stroke-width="0.81" fill="none"/>
<path d="M922.3 348.5 l1.2 -1.3 M932.3 348.5 l-1.2 -1.3" stroke="#666" stroke-width="0.81" fill="none"/>
<rect x="925.6" y="343.1" width="3.4" height="2.5" fill="#f2f2f2" stroke="#8a8a8a" stroke-width="0.5"/>
<circle cx="927.3" cy="347.9" r="2.1" fill="#fff" stroke="#8a8a8a" stroke-width="0.6"/>
<polygon points="927.5,361.8 926.1,354.8 928.9,354.8" fill="#0c0c0c"/>
<polygon points="1029.4,155.0 1059.6,155.0 1059.6,155.0 1059.6,192.6 1045.2,215.6 1043.6,215.6 1029.4,192.6 1029.4,155.0" fill="url(#gCylB)"/>
<line x1="1029.4" y1="192.6" x2="1059.6" y2="192.6" stroke="#00000030" stroke-width="0.5"/>
<line x1="1029.4" y1="155.0" x2="1059.6" y2="155.0" stroke="#00000018" stroke-width="0.5"/>
<polyline points="1044.5,215.5 1044.5,226.5" fill="none" stroke="#111" stroke-width="0.9" />
<line x1="1038.9" y1="220.6" x2="1049.9" y2="220.6" stroke="#888" stroke-width="0.6"/>
<rect x="1042.8000000000002" y="219.6" width="3.2" height="2" fill="#ddd" stroke="#777" stroke-width="0.4"/>
<line x1="1038.9" y1="219.4" x2="1038.9" y2="221.79999999999998" stroke="#888" stroke-width="0.5"/>
<line x1="1049.9" y1="219.4" x2="1049.9" y2="221.79999999999998" stroke="#888" stroke-width="0.5"/>
<polygon points="1044.5,231.4 1043.1,224.4 1045.9,224.4" fill="#0c0c0c"/>
<text x="1009.5" y="177.0" font-size="7.0" font-weight="500" textLength="19.0" lengthAdjust="spacingAndGlyphs" fill="#1a1a1a" >原料仓</text>
<text x="1013.7" y="185.6" font-size="9.0" textLength="10.5" lengthAdjust="spacingAndGlyphs" fill="#262626" >Silo</text>
<rect x="1013.8" y="232.5" width="38.799999999999955" height="4.2" fill="url(#gScrewH)"/>
<polyline points="1013.8,232.5 1017.3,236.7 1020.9,232.5 1024.4,236.7 1027.9,232.5 1031.4,236.7 1035.0,232.5 1038.5,236.7 1042.0,232.5 1045.5,236.7 1049.1,232.5 1052.6,236.7" fill="none" stroke="#e2e2e2" stroke-width="0.5" stroke-opacity="0.85"/>
<line x1="1013.8" y1="232.5" x2="1052.6" y2="232.5" stroke="#4c4c4c" stroke-width="0.6"/>
<line x1="1013.8" y1="236.7" x2="1052.6" y2="236.7" stroke="#8a8a8a" stroke-width="0.5"/>
<circle cx="1055.1999999999998" cy="234.6" r="1.9" fill="#f0f0f0" stroke="#9a9a9a" stroke-width="0.5"/>
<circle cx="1055.1999999999998" cy="234.6" r="0.6" fill="#aaa"/>
<polyline points="1019.5,237.5 1019.5,245.5" fill="none" stroke="#111" stroke-width="0.9" />
<polygon points="1019.5,250.6 1018.1,243.6 1020.9,243.6" fill="#0c0c0c"/>
<rect x="988" y="251.70000000000002" width="39.59999999999991" height="4.2" fill="url(#gScrewH)"/>
<polyline points="988.0,251.7 991.6,255.9 995.2,251.7 998.8,255.9 1002.4,251.7 1006.0,255.9 1009.6,251.7 1013.2,255.9 1016.8,251.7 1020.4,255.9 1024.0,251.7 1027.6,255.9" fill="none" stroke="#e2e2e2" stroke-width="0.5" stroke-opacity="0.85"/>
<line x1="988" y1="251.70000000000002" x2="1027.6" y2="251.70000000000002" stroke="#4c4c4c" stroke-width="0.6"/>
<line x1="988" y1="255.9" x2="1027.6" y2="255.9" stroke="#8a8a8a" stroke-width="0.5"/>
<circle cx="1030.1999999999998" cy="253.8" r="1.9" fill="#f0f0f0" stroke="#9a9a9a" stroke-width="0.5"/>
<circle cx="1030.1999999999998" cy="253.8" r="0.6" fill="#aaa"/>
<polyline points="994.5,256.5 994.5,268.5" fill="none" stroke="#111" stroke-width="0.9" />
<polygon points="994.5,274.4 993.1,267.4 995.9,267.4" fill="#0c0c0c"/>
<rect x="963.6" y="275.4" width="39.0" height="4.2" fill="url(#gScrewH)"/>
<polyline points="963.6,275.4 967.1,279.6 970.7,275.4 974.2,279.6 977.8,275.4 981.3,279.6 984.9,275.4 988.4,279.6 992.0,275.4 995.5,279.6 999.1,275.4 1002.6,279.6" fill="none" stroke="#e2e2e2" stroke-width="0.5" stroke-opacity="0.85"/>
<line x1="963.6" y1="275.4" x2="1002.6" y2="275.4" stroke="#4c4c4c" stroke-width="0.6"/>
<line x1="963.6" y1="279.6" x2="1002.6" y2="279.6" stroke="#8a8a8a" stroke-width="0.5"/>
<circle cx="1005.2" cy="277.5" r="1.9" fill="#f0f0f0" stroke="#9a9a9a" stroke-width="0.5"/>
<circle cx="1005.2" cy="277.5" r="0.6" fill="#aaa"/>
<text x="979.5" y="235.3" font-size="7.0" font-weight="500" textLength="31.0" lengthAdjust="spacingAndGlyphs" fill="#1a1a1a" >螺旋计量秤</text>
<text x="976.0" y="245.0" font-size="9.0" textLength="38.6" lengthAdjust="spacingAndGlyphs" fill="#262626" >Scew weigher</text>
<text x="975.9" y="289.5" font-size="7.0" font-weight="500" textLength="31.0" lengthAdjust="spacingAndGlyphs" fill="#1a1a1a" >螺旋输送机</text>
<text x="969.0" y="298.4" font-size="9.0" textLength="44.8" lengthAdjust="spacingAndGlyphs" fill="#262626" >Screw conveyor</text>
<polyline points="759.5,239.5 759.5,138.5 1072.5,138.5 1072.5,317.5" fill="none" stroke="#222" stroke-width="0.9" />
<line x1="757.3" y1="235.4" x2="760.7" y2="233.2" stroke="#0a0a0a" stroke-width="0.7"/>
<line x1="757.3" y1="232.8" x2="760.7" y2="230.6" stroke="#0a0a0a" stroke-width="0.7"/>
<line x1="757.3" y1="221.9" x2="760.7" y2="219.7" stroke="#0a0a0a" stroke-width="0.7"/>
<line x1="757.3" y1="219.3" x2="760.7" y2="217.1" stroke="#0a0a0a" stroke-width="0.7"/>
<line x1="757.3" y1="208.4" x2="760.7" y2="206.2" stroke="#0a0a0a" stroke-width="0.7"/>
<line x1="757.3" y1="205.8" x2="760.7" y2="203.6" stroke="#0a0a0a" stroke-width="0.7"/>
<line x1="757.3" y1="194.9" x2="760.7" y2="192.7" stroke="#0a0a0a" stroke-width="0.7"/>
<line x1="757.3" y1="192.3" x2="760.7" y2="190.1" stroke="#0a0a0a" stroke-width="0.7"/>
<line x1="757.3" y1="181.4" x2="760.7" y2="179.2" stroke="#0a0a0a" stroke-width="0.7"/>
<line x1="757.3" y1="178.8" x2="760.7" y2="176.6" stroke="#0a0a0a" stroke-width="0.7"/>
<line x1="757.3" y1="167.9" x2="760.7" y2="165.7" stroke="#0a0a0a" stroke-width="0.7"/>
<line x1="757.3" y1="165.3" x2="760.7" y2="163.1" stroke="#0a0a0a" stroke-width="0.7"/>
<line x1="757.3" y1="154.4" x2="760.7" y2="152.2" stroke="#0a0a0a" stroke-width="0.7"/>
<line x1="757.3" y1="151.8" x2="760.7" y2="149.6" stroke="#0a0a0a" stroke-width="0.7"/>
<line x1="762.6" y1="136.5" x2="764.8" y2="139.9" stroke="#0a0a0a" stroke-width="0.7"/>
<line x1="765.2" y1="136.5" x2="767.4" y2="139.9" stroke="#0a0a0a" stroke-width="0.7"/>
<line x1="776.1" y1="136.5" x2="778.3" y2="139.9" stroke="#0a0a0a" stroke-width="0.7"/>
<line x1="778.7" y1="136.5" x2="780.9" y2="139.9" stroke="#0a0a0a" stroke-width="0.7"/>
<line x1="789.6" y1="136.5" x2="791.8" y2="139.9" stroke="#0a0a0a" stroke-width="0.7"/>
<line x1="792.2" y1="136.5" x2="794.4" y2="139.9" stroke="#0a0a0a" stroke-width="0.7"/>
<line x1="803.1" y1="136.5" x2="805.3" y2="139.9" stroke="#0a0a0a" stroke-width="0.7"/>
<line x1="805.7" y1="136.5" x2="807.9" y2="139.9" stroke="#0a0a0a" stroke-width="0.7"/>
<line x1="816.6" y1="136.5" x2="818.8" y2="139.9" stroke="#0a0a0a" stroke-width="0.7"/>
<line x1="819.2" y1="136.5" x2="821.4" y2="139.9" stroke="#0a0a0a" stroke-width="0.7"/>
<line x1="830.1" y1="136.5" x2="832.3" y2="139.9" stroke="#0a0a0a" stroke-width="0.7"/>
<line x1="832.7" y1="136.5" x2="834.9" y2="139.9" stroke="#0a0a0a" stroke-width="0.7"/>
<line x1="843.6" y1="136.5" x2="845.8" y2="139.9" stroke="#0a0a0a" stroke-width="0.7"/>
<line x1="846.2" y1="136.5" x2="848.4" y2="139.9" stroke="#0a0a0a" stroke-width="0.7"/>
<line x1="857.1" y1="136.5" x2="859.3" y2="139.9" stroke="#0a0a0a" stroke-width="0.7"/>
<line x1="859.7" y1="136.5" x2="861.9" y2="139.9" stroke="#0a0a0a" stroke-width="0.7"/>
<line x1="870.6" y1="136.5" x2="872.8" y2="139.9" stroke="#0a0a0a" stroke-width="0.7"/>
<line x1="873.2" y1="136.5" x2="875.4" y2="139.9" stroke="#0a0a0a" stroke-width="0.7"/>
<line x1="884.1" y1="136.5" x2="886.3" y2="139.9" stroke="#0a0a0a" stroke-width="0.7"/>
<line x1="886.7" y1="136.5" x2="888.9" y2="139.9" stroke="#0a0a0a" stroke-width="0.7"/>
<line x1="897.6" y1="136.5" x2="899.8" y2="139.9" stroke="#0a0a0a" stroke-width="0.7"/>
<line x1="900.2" y1="136.5" x2="902.4" y2="139.9" stroke="#0a0a0a" stroke-width="0.7"/>
<line x1="911.1" y1="136.5" x2="913.3" y2="139.9" stroke="#0a0a0a" stroke-width="0.7"/>
<line x1="913.7" y1="136.5" x2="915.9" y2="139.9" stroke="#0a0a0a" stroke-width="0.7"/>
<line x1="924.6" y1="136.5" x2="926.8" y2="139.9" stroke="#0a0a0a" stroke-width="0.7"/>
<line x1="927.2" y1="136.5" x2="929.4" y2="139.9" stroke="#0a0a0a" stroke-width="0.7"/>
<line x1="938.1" y1="136.5" x2="940.3" y2="139.9" stroke="#0a0a0a" stroke-width="0.7"/>
<line x1="940.7" y1="136.5" x2="942.9" y2="139.9" stroke="#0a0a0a" stroke-width="0.7"/>
<line x1="951.6" y1="136.5" x2="953.8" y2="139.9" stroke="#0a0a0a" stroke-width="0.7"/>
<line x1="954.2" y1="136.5" x2="956.4" y2="139.9" stroke="#0a0a0a" stroke-width="0.7"/>
<line x1="965.1" y1="136.5" x2="967.3" y2="139.9" stroke="#0a0a0a" stroke-width="0.7"/>
<line x1="967.7" y1="136.5" x2="969.9" y2="139.9" stroke="#0a0a0a" stroke-width="0.7"/>
<line x1="978.6" y1="136.5" x2="980.8" y2="139.9" stroke="#0a0a0a" stroke-width="0.7"/>
<line x1="981.2" y1="136.5" x2="983.4" y2="139.9" stroke="#0a0a0a" stroke-width="0.7"/>
<line x1="992.1" y1="136.5" x2="994.3" y2="139.9" stroke="#0a0a0a" stroke-width="0.7"/>
<line x1="994.7" y1="136.5" x2="996.9" y2="139.9" stroke="#0a0a0a" stroke-width="0.7"/>
<line x1="1005.6" y1="136.5" x2="1007.8" y2="139.9" stroke="#0a0a0a" stroke-width="0.7"/>
<line x1="1008.2" y1="136.5" x2="1010.4" y2="139.9" stroke="#0a0a0a" stroke-width="0.7"/>
<line x1="1019.1" y1="136.5" x2="1021.3" y2="139.9" stroke="#0a0a0a" stroke-width="0.7"/>
<line x1="1021.7" y1="136.5" x2="1023.9" y2="139.9" stroke="#0a0a0a" stroke-width="0.7"/>
<line x1="1032.6" y1="136.5" x2="1034.8" y2="139.9" stroke="#0a0a0a" stroke-width="0.7"/>
<line x1="1035.2" y1="136.5" x2="1037.4" y2="139.9" stroke="#0a0a0a" stroke-width="0.7"/>
<line x1="1046.1" y1="136.5" x2="1048.3" y2="139.9" stroke="#0a0a0a" stroke-width="0.7"/>
<line x1="1048.7" y1="136.5" x2="1050.9" y2="139.9" stroke="#0a0a0a" stroke-width="0.7"/>
<line x1="1059.6" y1="136.5" x2="1061.8" y2="139.9" stroke="#0a0a0a" stroke-width="0.7"/>
<line x1="1062.2" y1="136.5" x2="1064.4" y2="139.9" stroke="#0a0a0a" stroke-width="0.7"/>
<line x1="1073.7" y1="141.8" x2="1070.3" y2="144.0" stroke="#0a0a0a" stroke-width="0.7"/>
<line x1="1073.7" y1="144.4" x2="1070.3" y2="146.6" stroke="#0a0a0a" stroke-width="0.7"/>
<line x1="1073.7" y1="155.3" x2="1070.3" y2="157.5" stroke="#0a0a0a" stroke-width="0.7"/>
<line x1="1073.7" y1="157.9" x2="1070.3" y2="160.1" stroke="#0a0a0a" stroke-width="0.7"/>
<line x1="1073.7" y1="168.8" x2="1070.3" y2="171.0" stroke="#0a0a0a" stroke-width="0.7"/>
<line x1="1073.7" y1="171.4" x2="1070.3" y2="173.6" stroke="#0a0a0a" stroke-width="0.7"/>
<line x1="1073.7" y1="182.3" x2="1070.3" y2="184.5" stroke="#0a0a0a" stroke-width="0.7"/>
<line x1="1073.7" y1="184.9" x2="1070.3" y2="187.1" stroke="#0a0a0a" stroke-width="0.7"/>
<line x1="1073.7" y1="195.8" x2="1070.3" y2="198.0" stroke="#0a0a0a" stroke-width="0.7"/>
<line x1="1073.7" y1="198.4" x2="1070.3" y2="200.6" stroke="#0a0a0a" stroke-width="0.7"/>
<line x1="1073.7" y1="209.3" x2="1070.3" y2="211.5" stroke="#0a0a0a" stroke-width="0.7"/>
<line x1="1073.7" y1="211.9" x2="1070.3" y2="214.1" stroke="#0a0a0a" stroke-width="0.7"/>
<line x1="1073.7" y1="222.8" x2="1070.3" y2="225.0" stroke="#0a0a0a" stroke-width="0.7"/>
<line x1="1073.7" y1="225.4" x2="1070.3" y2="227.6" stroke="#0a0a0a" stroke-width="0.7"/>
<line x1="1073.7" y1="236.3" x2="1070.3" y2="238.5" stroke="#0a0a0a" stroke-width="0.7"/>
<line x1="1073.7" y1="238.9" x2="1070.3" y2="241.1" stroke="#0a0a0a" stroke-width="0.7"/>
<line x1="1073.7" y1="249.8" x2="1070.3" y2="252.0" stroke="#0a0a0a" stroke-width="0.7"/>
<line x1="1073.7" y1="252.4" x2="1070.3" y2="254.6" stroke="#0a0a0a" stroke-width="0.7"/>
<line x1="1073.7" y1="263.3" x2="1070.3" y2="265.5" stroke="#0a0a0a" stroke-width="0.7"/>
<line x1="1073.7" y1="265.9" x2="1070.3" y2="268.1" stroke="#0a0a0a" stroke-width="0.7"/>
<line x1="1073.7" y1="276.8" x2="1070.3" y2="279.0" stroke="#0a0a0a" stroke-width="0.7"/>
<line x1="1073.7" y1="279.4" x2="1070.3" y2="281.6" stroke="#0a0a0a" stroke-width="0.7"/>
<line x1="1073.7" y1="290.3" x2="1070.3" y2="292.5" stroke="#0a0a0a" stroke-width="0.7"/>
<line x1="1073.7" y1="292.9" x2="1070.3" y2="295.1" stroke="#0a0a0a" stroke-width="0.7"/>
<line x1="1073.7" y1="303.8" x2="1070.3" y2="306.0" stroke="#0a0a0a" stroke-width="0.7"/>
<line x1="1073.7" y1="306.4" x2="1070.3" y2="308.6" stroke="#0a0a0a" stroke-width="0.7"/>
<polyline points="1072.5,317.5 1116.5,317.5" fill="none" stroke="#222" stroke-width="0.9" />
<path d="M1086 315.8 l3 3 M1089 315.8 l-3 3" stroke="#999" stroke-width="0.5"/>
<polyline points="751.5,239.5 751.5,147.5 1066.5,147.5 1066.5,337.5 1144.5,337.5" fill="none" stroke="#222" stroke-width="0.9" />
<rect x="740" y="237.6" width="20" height="2.8" fill="url(#gScrew)" stroke="#777" stroke-width="0.4"/>
<path d="M739.6 239 L733 236 M739.6 239 L732.6 238 M739.6 239 L732.6 240 M739.6 239 L733 242 M739.6 239 L734 243.6" stroke="#666" stroke-width="0.4" fill="none"/>
<rect x="1080.6" y="294.6" width="97" height="78.6" fill="none" stroke="#9a9a9a" stroke-width="0.6" stroke-dasharray="3 2"/>
<rect x="1116" y="315.2" width="18.4" height="3.6" rx="1.6" fill="#0a0a0a"/>
<circle cx="1096" cy="308.8" r="2.1" fill="#fff" stroke="#777" stroke-width="0.5"/><line x1="1096" y1="311" x2="1096" y2="317" stroke="#777" stroke-width="0.5"/>
<circle cx="1093.4" cy="330" r="2.2" fill="#fff" stroke="#777" stroke-width="0.5"/><line x1="1093.4" y1="332.2" x2="1093.4" y2="336" stroke="#777" stroke-width="0.5"/>
<rect x="1091.2" y="335.8" width="4.6" height="3" fill="#eee" stroke="#888" stroke-width="0.4"/>
<circle cx="1106.8" cy="337.5" r="4.6" fill="url(#gBall)" stroke="#555" stroke-width="0.6"/>
<circle cx="1106.8" cy="337.5" r="4.6" fill="#55555566"/>
<line x1="1106.8" y1="333" x2="1106.8" y2="330.6" stroke="#777" stroke-width="0.5"/><circle cx="1106.8" cy="330" r="0.8" fill="#999"/>
<rect x="1122" y="339" width="2.6" height="8.6" fill="#eee" stroke="#888" stroke-width="0.4"/>
<polygon points="1131,336.2 1135,339 1131,339 1135,336.2" fill="#ddd" stroke="#888" stroke-width="0.4"/>
<rect x="1144" y="316" width="15.8" height="23.8" fill="url(#gTank)"/>
<path d="M1144 316.4 Q1152 312.6 1159.8 316.4 Z" fill="#2222d8"/>
<text x="1110.5" y="303.5" font-size="7.0" font-weight="500" textLength="25.0" lengthAdjust="spacingAndGlyphs" fill="#1a1a1a" >压缩空气</text>
<text x="1101.0" y="312.2" font-size="9.0" textLength="45.0" lengthAdjust="spacingAndGlyphs" fill="#262626" >Compressed Air</text>
<text x="1138.9" y="351.5" font-size="7.0" font-weight="500" textLength="25.0" lengthAdjust="spacingAndGlyphs" fill="#1a1a1a" >氨水储罐</text>
<text x="1128.4" y="360.0" font-size="9.0" textLength="46.0" lengthAdjust="spacingAndGlyphs" fill="#262626" >Ammonia Water</text>
<text x="1132.9" y="367.6" font-size="9.0" textLength="37.0" lengthAdjust="spacingAndGlyphs" fill="#262626" >Storage Tank</text>
<text x="1108.2" y="385.1" font-size="7.0" font-weight="500" textLength="37.5" lengthAdjust="spacingAndGlyphs" fill="#1a1a1a" >氨水输送系统</text>
<text x="1104.0" y="396.0" font-size="9.0" textLength="46.0" lengthAdjust="spacingAndGlyphs" fill="#262626" >Ammonia Water</text>
<text x="1104.2" y="406.0" font-size="9.0" textLength="45.5" lengthAdjust="spacingAndGlyphs" fill="#262626" >Delivery System</text>
<polyline points="1019.5,447.5 1097.5,447.5" fill="none" stroke="#222" stroke-width="0.9" />
<polyline points="1019.5,466.5 1097.5,466.5" fill="none" stroke="#111" stroke-width="0.9" stroke-dasharray="9 5" />
<polyline points="1019.5,484.5 1097.5,484.5" fill="none" stroke="#222" stroke-width="0.9" />
<polyline points="1019.5,503.5 1097.5,503.5" fill="none" stroke="#222" stroke-width="0.9" />
<polyline points="1019.5,525.5 1097.5,525.5" fill="none" stroke="#222" stroke-width="0.9" />
<line x1="1028.0" y1="522.9" x2="1030.6" y2="527.1" stroke="#0a0a0a" stroke-width="1.0"/>
<line x1="1030.6" y1="522.9" x2="1033.2" y2="527.1" stroke="#0a0a0a" stroke-width="1.0"/>
<line x1="1041.5" y1="522.9" x2="1044.1" y2="527.1" stroke="#0a0a0a" stroke-width="1.0"/>
<line x1="1044.1" y1="522.9" x2="1046.7" y2="527.1" stroke="#0a0a0a" stroke-width="1.0"/>
<line x1="1055.0" y1="522.9" x2="1057.6" y2="527.1" stroke="#0a0a0a" stroke-width="1.0"/>
<line x1="1057.6" y1="522.9" x2="1060.2" y2="527.1" stroke="#0a0a0a" stroke-width="1.0"/>
<line x1="1068.5" y1="522.9" x2="1071.1" y2="527.1" stroke="#0a0a0a" stroke-width="1.0"/>
<line x1="1071.1" y1="522.9" x2="1073.7" y2="527.1" stroke="#0a0a0a" stroke-width="1.0"/>
<line x1="1082.0" y1="522.9" x2="1084.6" y2="527.1" stroke="#0a0a0a" stroke-width="1.0"/>
<line x1="1084.6" y1="522.9" x2="1087.2" y2="527.1" stroke="#0a0a0a" stroke-width="1.0"/>
<text x="1105.5" y="449.9" font-size="7.0" font-weight="500" textLength="12.5" lengthAdjust="spacingAndGlyphs" fill="#1a1a1a" >料流</text>
<text x="1120.0" y="450.6" font-size="9.0" textLength="37.5" lengthAdjust="spacingAndGlyphs" fill="#262626" >Material Flow</text>
<text x="1105.5" y="469.1" font-size="7.0" font-weight="500" textLength="12.5" lengthAdjust="spacingAndGlyphs" fill="#1a1a1a" >气流</text>
<text x="1120.0" y="469.8" font-size="9.0" textLength="22.5" lengthAdjust="spacingAndGlyphs" fill="#262626" >Air Flow</text>
<text x="1105.5" y="486.9" font-size="7.0" font-weight="500" textLength="12.5" lengthAdjust="spacingAndGlyphs" fill="#1a1a1a" >氨水</text>
<text x="1120.0" y="487.6" font-size="9.0" textLength="56.0" lengthAdjust="spacingAndGlyphs" fill="#262626" >Aqueous Ammonia</text>
<text x="1105.5" y="505.7" font-size="7.0" font-weight="500" textLength="18.8" lengthAdjust="spacingAndGlyphs" fill="#1a1a1a" >天然气</text>
<text x="1126.2" y="506.4" font-size="9.0" textLength="34.8" lengthAdjust="spacingAndGlyphs" fill="#262626" >Natural Gas</text>
<text x="1114.5" y="521.5" font-size="7.0" font-weight="500" textLength="25.0" lengthAdjust="spacingAndGlyphs" fill="#1a1a1a" >压缩空气</text>
<text x="1104.5" y="532.0" font-size="9.0" textLength="45.0" lengthAdjust="spacingAndGlyphs" fill="#262626" >Compressed Air</text>
<path d="M227.2 211 Q228 204.6 233 202 L241.4 202 Q246.2 204.6 247 211 L247 271.8 Q246.2 278 241.4 280.8 L233 280.8 Q228 278 227.2 271.8 Z" fill="url(#gCyl)"/>
<line x1="227.2" y1="211" x2="247" y2="211" stroke="#00000028" stroke-width="0.5"/><line x1="227.2" y1="271.8" x2="247" y2="271.8" stroke="#00000028" stroke-width="0.5"/>
<text x="183.9" y="213.0" font-size="7.0" font-weight="500" textLength="19.0" lengthAdjust="spacingAndGlyphs" fill="#1a1a1a" >脱硫塔</text>
<text x="180.6" y="223.8" font-size="9.0" textLength="25.6" lengthAdjust="spacingAndGlyphs" fill="#262626" >Flue Gas</text>
<text x="163.2" y="233.8" font-size="9.0" textLength="60.5" lengthAdjust="spacingAndGlyphs" fill="#262626" >Desulfurization Tower</text>
<text x="171.6" y="253.3" font-size="7.0" font-weight="500" textLength="43.5" lengthAdjust="spacingAndGlyphs" fill="#1a1a1a" >高温袋式除尘器</text>
<text x="168.1" y="264.2" font-size="9.0" textLength="50.5" lengthAdjust="spacingAndGlyphs" fill="#262626" >High-temperature</text>
<text x="180.1" y="274.2" font-size="9.0" textLength="26.4" lengthAdjust="spacingAndGlyphs" fill="#262626" >Bag Filter</text>
<polyline points="237.5,280.5 237.5,299.5 227.5,299.5" fill="none" stroke="#222" stroke-width="0.85" stroke-dasharray="4 2" />
<polygon points="221.0,299.5 228.0,298.2 228.0,300.8" fill="#0c0c0c"/>
<path d="M163 277.2 L164.2 276 L218.8 276 L220 277.2 L220 322 L210 359 L202 359 L191.5 325 L182.6 359 L175 359 L163 322 Z" fill="url(#gCylB)"/>
<line x1="191.5" y1="276" x2="191.5" y2="325" stroke="#00000035" stroke-width="0.5"/>
<line x1="163" y1="322" x2="220" y2="322" stroke="#00000025" stroke-width="0.5"/>
<line x1="163" y1="281.6" x2="220" y2="281.6" stroke="#00000020" stroke-width="0.5"/>
<rect x="168.4" y="297" width="7.599999999999994" height="12.6" fill="#fad408" stroke="#d8b400" stroke-width="0.4"/>
<rect x="179.8" y="297" width="7.599999999999994" height="12.6" fill="#fad408" stroke="#d8b400" stroke-width="0.4"/>
<rect x="195.4" y="297" width="7.599999999999994" height="12.6" fill="#fad408" stroke="#d8b400" stroke-width="0.4"/>
<rect x="207.4" y="297" width="7.599999999999994" height="12.6" fill="#fad408" stroke="#d8b400" stroke-width="0.4"/>
<polyline points="178.5,359.5 178.5,380.5" fill="none" stroke="#111" stroke-width="0.9" />
<polygon points="178.5,386.4 177.1,379.4 179.9,379.4" fill="#0c0c0c"/>
<circle cx="178.8" cy="368.4" r="3.2" fill="url(#gHot)"/>
<circle cx="166.8" cy="368.4" r="3.5" fill="#fff" stroke="#999" stroke-width="0.55"/>
<text x="166.8" y="370.0" font-size="4.4" text-anchor="middle" fill="#999">M</text>
<line x1="170.20000000000002" y1="368.4" x2="176.20000000000002" y2="368.4" stroke="#aaa" stroke-width="0.5"/>
<polyline points="206.5,359.5 206.5,380.5" fill="none" stroke="#111" stroke-width="0.9" />
<polygon points="206.5,386.4 205.1,379.4 207.9,379.4" fill="#0c0c0c"/>
<circle cx="206.4" cy="368.4" r="3.2" fill="url(#gHot)"/>
<circle cx="194.8" cy="368.4" r="3.5" fill="#fff" stroke="#999" stroke-width="0.55"/>
<text x="194.8" y="370.0" font-size="4.4" text-anchor="middle" fill="#999">M</text>
<line x1="198.20000000000002" y1="368.4" x2="203.8" y2="368.4" stroke="#aaa" stroke-width="0.5"/>
<polyline points="163.5,299.5 91.5,299.5 91.5,312.5" fill="none" stroke="#222" stroke-width="0.85" stroke-dasharray="4 2" />
<polygon points="91.5,318.0 90.2,311.0 92.8,311.0" fill="#0c0c0c"/>
<path d="M91 319.4 L103.4 326 L103.4 359 L106.2 364 L106.2 402.4 L94 410 L89 410 L75.4 402.4 L75.4 364 L79 359 L79 326 Z" fill="url(#gCyl)"/>
<path d="M79 326.4 L103.4 358 M103.4 326.4 L79 358 M79 326.4 L103.4 326.4 M79 358.6 L103.4 358.6" stroke="#777" stroke-width="0.5" fill="none"/>
<line x1="75.4" y1="365.4" x2="106.2" y2="365.4" stroke="#00000038" stroke-width="0.7"/>
<line x1="75.4" y1="368.7" x2="106.2" y2="368.7" stroke="#00000038" stroke-width="0.7"/>
<line x1="75.4" y1="372.0" x2="106.2" y2="372.0" stroke="#00000038" stroke-width="0.7"/>
<line x1="75.4" y1="375.3" x2="106.2" y2="375.3" stroke="#00000038" stroke-width="0.7"/>
<line x1="75.4" y1="378.6" x2="106.2" y2="378.6" stroke="#00000038" stroke-width="0.7"/>
<line x1="75.4" y1="381.9" x2="106.2" y2="381.9" stroke="#00000038" stroke-width="0.7"/>
<line x1="75.4" y1="385.2" x2="106.2" y2="385.2" stroke="#00000038" stroke-width="0.7"/>
<line x1="75.4" y1="388.5" x2="106.2" y2="388.5" stroke="#00000038" stroke-width="0.7"/>
<line x1="75.4" y1="391.8" x2="106.2" y2="391.8" stroke="#00000038" stroke-width="0.7"/>
<line x1="75.4" y1="395.1" x2="106.2" y2="395.1" stroke="#00000038" stroke-width="0.7"/>
<line x1="75.4" y1="398.4" x2="106.2" y2="398.4" stroke="#00000038" stroke-width="0.7"/>
<line x1="75.4" y1="401.7" x2="106.2" y2="401.7" stroke="#00000038" stroke-width="0.7"/>
<text x="114.0" y="337.6" font-size="9" textLength="11.9" lengthAdjust="spacingAndGlyphs" fill="#262626" >SCR</text>
<text x="126.5" y="336.9" font-size="7.0" font-weight="500" textLength="23.5" lengthAdjust="spacingAndGlyphs" fill="#1a1a1a" >脱硝装置</text>
<text x="105.4" y="347.6" font-size="9.0" textLength="53.2" lengthAdjust="spacingAndGlyphs" fill="#262626" >SCR Denitrification</text>
<text x="121.5" y="357.6" font-size="9.0" textLength="21.0" lengthAdjust="spacingAndGlyphs" fill="#262626" >System</text>
<text x="121.0" y="385.2" font-size="9" textLength="13.0" lengthAdjust="spacingAndGlyphs" fill="#262626" >VOC</text>
<text x="134.6" y="384.5" font-size="7.0" font-weight="500" textLength="12.4" lengthAdjust="spacingAndGlyphs" fill="#1a1a1a" >装置</text>
<text x="112.1" y="395.0" font-size="9.0" textLength="43.8" lengthAdjust="spacingAndGlyphs" fill="#262626" >VOC Treatment</text>
<text x="123.5" y="405.0" font-size="9.0" textLength="21.0" lengthAdjust="spacingAndGlyphs" fill="#262626" >System</text>
<polyline points="91.5,410.5 91.5,433.5" fill="none" stroke="#222" stroke-width="0.85" stroke-dasharray="4 2" />
<rect x="89.9" y="418.9" width="2.2" height="5" rx="0.6" fill="#dcdcdc" stroke="#6a6a6a" stroke-width="0.55"/>
<polygon points="91.5,439.0 90.2,432.0 92.8,432.0" fill="#0c0c0c"/>
<polygon points="83.2,458.6 100.0,458.6 95.8,452.3 87.4,452.3" fill="#e2e2e2" stroke="#777" stroke-width="0.5"/>
<rect x="82.5" y="441.8" width="9.1" height="5.2" fill="#e4e4e4" stroke="#777" stroke-width="0.5"/>
<circle cx="91.6" cy="448.8" r="7.0" fill="url(#gBall)" stroke="#666" stroke-width="0.6"/>
<circle cx="91.6" cy="448.8" r="2.94" fill="#f6f6f6" stroke="#888" stroke-width="0.5"/>
<polyline points="78.0,441.6 49.4,413.0" fill="none" stroke="#222" stroke-width="0.75" stroke-dasharray="4 2" />
<polygon points="45.4,409.0 51.3,413.0 49.4,414.9" fill="#0c0c0c"/>
<polygon points="82.6,446.0 76.7,442.0 78.6,440.1" fill="#0c0c0c"/>
<polygon points="30.6,343 40,343 46.2,460 25,460" fill="url(#gCyl)"/>
<path d="M30.6 333.0 q1.2 -1 2.4 0 t2.4 0 t2.4 0 t2.4 0" fill="none" stroke="#555" stroke-width="0.55" stroke-dasharray="1.6 0.7"/>
<path d="M30.6 335.7 q1.2 -1 2.4 0 t2.4 0 t2.4 0 t2.4 0" fill="none" stroke="#555" stroke-width="0.55" stroke-dasharray="1.6 0.7"/>
<path d="M30.6 338.4 q1.2 -1 2.4 0 t2.4 0 t2.4 0 t2.4 0" fill="none" stroke="#555" stroke-width="0.55" stroke-dasharray="1.6 0.7"/>
<path d="M30.6 341.1 q1.2 -1 2.4 0 t2.4 0 t2.4 0 t2.4 0" fill="none" stroke="#555" stroke-width="0.55" stroke-dasharray="1.6 0.7"/>
<text x="29.2" y="468.5" font-size="7.0" font-weight="500" textLength="12.6" lengthAdjust="spacingAndGlyphs" fill="#1a1a1a" >烟囱</text>
<text x="23.1" y="479.0" font-size="9.0" textLength="24.9" lengthAdjust="spacingAndGlyphs" fill="#262626" >Chimney</text>
<text x="78.5" y="468.5" font-size="7.0" font-weight="500" textLength="25.0" lengthAdjust="spacingAndGlyphs" fill="#1a1a1a" >高温风机</text>
<text x="59.0" y="479.0" font-size="9.0" textLength="64.0" lengthAdjust="spacingAndGlyphs" fill="#262626" >High Temperature Fan</text>
<g opacity="0.6">
<path d="M76.4 167.7 L80.3 169.2 L80.8 170.1 L79.7 175.0 L78.9 175.5 L74.7 175.2 L72.1 179.5 L74.3 183.1 L74.3 184.1 L70.5 187.4 L69.5 187.3 L66.3 184.6 L61.6 186.6 L61.4 190.8 L60.8 191.5 L55.8 192.0 L55.0 191.4 L54.0 187.3 L49.0 186.1 L46.4 189.4 L45.4 189.7 L41.1 187.1 L40.9 186.1 L42.5 182.2 L39.1 178.4 L35.0 179.5 L34.1 179.1 L32.1 174.5 L32.5 173.6 L36.1 171.4 L35.6 166.3 L31.7 164.8 L31.2 163.9 L32.3 159.0 L33.1 158.5 L37.3 158.8 L39.9 154.5 L37.7 150.9 L37.7 149.9 L41.5 146.6 L42.5 146.7 L45.7 149.4 L50.4 147.4 L50.6 143.2 L51.2 142.5 L56.2 142.0 L57.0 142.6 L58.0 146.7 L63.0 147.9 L65.6 144.6 L66.6 144.3 L70.9 146.9 L71.1 147.9 L69.5 151.8 L72.9 155.6 L77.0 154.5 L77.9 154.9 L79.9 159.5 L79.5 160.4 L75.9 162.6 Z M72.2 167.0 A16.2 16.2 0 1 0 39.8 167.0 A16.2 16.2 0 1 0 72.2 167.0 Z" fill="#bbd0ee" fill-rule="evenodd" stroke="#bbd0ee" stroke-width="1" stroke-linejoin="round"/>
<text transform="translate(49.6,169.6) rotate(-42)" x="-5.2" y="6" font-size="17.5" font-style="italic" fill="#ee9494" stroke="#ee9494" stroke-width="0.5">Z</text>
<text transform="translate(61.6,163.2) rotate(-42)" x="-5.6" y="6" font-size="17" fill="#909090" stroke="#909090" stroke-width="0.5">K</text>
<path d="M465.4 124.3 L469.3 125.8 L469.8 126.7 L468.7 131.6 L467.9 132.1 L463.7 131.8 L461.1 136.1 L463.3 139.7 L463.3 140.7 L459.5 144.0 L458.5 143.9 L455.3 141.2 L450.6 143.2 L450.4 147.4 L449.8 148.1 L444.8 148.6 L444.0 148.0 L443.0 143.9 L438.0 142.7 L435.4 146.0 L434.4 146.3 L430.1 143.7 L429.9 142.7 L431.5 138.8 L428.1 135.0 L424.0 136.1 L423.1 135.7 L421.1 131.1 L421.5 130.2 L425.1 128.0 L424.6 122.9 L420.7 121.4 L420.2 120.5 L421.3 115.6 L422.1 115.1 L426.3 115.4 L428.9 111.1 L426.7 107.5 L426.7 106.5 L430.5 103.2 L431.5 103.3 L434.7 106.0 L439.4 104.0 L439.6 99.8 L440.2 99.1 L445.2 98.6 L446.0 99.2 L447.0 103.3 L452.0 104.5 L454.6 101.2 L455.6 100.9 L459.9 103.5 L460.1 104.5 L458.5 108.4 L461.9 112.2 L466.0 111.1 L466.9 111.5 L468.9 116.1 L468.5 117.0 L464.9 119.2 Z M461.2 123.6 A16.2 16.2 0 1 0 428.8 123.6 A16.2 16.2 0 1 0 461.2 123.6 Z" fill="#bbd0ee" fill-rule="evenodd" stroke="#bbd0ee" stroke-width="1" stroke-linejoin="round"/>
<text transform="translate(438.6,126.2) rotate(-42)" x="-5.2" y="6" font-size="17.5" font-style="italic" fill="#ee9494" stroke="#ee9494" stroke-width="0.5">Z</text>
<text transform="translate(450.6,119.8) rotate(-42)" x="-5.6" y="6" font-size="17" fill="#909090" stroke="#909090" stroke-width="0.5">K</text>
<path d="M788.9 123.2 L792.8 124.7 L793.3 125.6 L792.2 130.5 L791.4 131.0 L787.2 130.7 L784.6 135.0 L786.8 138.6 L786.8 139.6 L783.0 142.9 L782.0 142.8 L778.8 140.1 L774.1 142.1 L773.9 146.3 L773.3 147.0 L768.3 147.5 L767.5 146.9 L766.5 142.8 L761.5 141.6 L758.9 144.9 L757.9 145.2 L753.6 142.6 L753.4 141.6 L755.0 137.7 L751.6 133.9 L747.5 135.0 L746.6 134.6 L744.6 130.0 L745.0 129.1 L748.6 126.9 L748.1 121.8 L744.2 120.3 L743.7 119.4 L744.8 114.5 L745.6 114.0 L749.8 114.3 L752.4 110.0 L750.2 106.4 L750.2 105.4 L754.0 102.1 L755.0 102.2 L758.2 104.9 L762.9 102.9 L763.1 98.7 L763.7 98.0 L768.7 97.5 L769.5 98.1 L770.5 102.2 L775.5 103.4 L778.1 100.1 L779.1 99.8 L783.4 102.4 L783.6 103.4 L782.0 107.3 L785.4 111.1 L789.5 110.0 L790.4 110.4 L792.4 115.0 L792.0 115.9 L788.4 118.1 Z M784.8 122.5 A16.2 16.2 0 1 0 752.2 122.5 A16.2 16.2 0 1 0 784.8 122.5 Z" fill="#bbd0ee" fill-rule="evenodd" stroke="#bbd0ee" stroke-width="1" stroke-linejoin="round"/>
<text transform="translate(762.1,125.1) rotate(-42)" x="-5.2" y="6" font-size="17.5" font-style="italic" fill="#ee9494" stroke="#ee9494" stroke-width="0.5">Z</text>
<text transform="translate(774.1,118.7) rotate(-42)" x="-5.6" y="6" font-size="17" fill="#909090" stroke="#909090" stroke-width="0.5">K</text>
<path d="M1144.2 124.4 L1148.1 125.9 L1148.6 126.8 L1147.5 131.7 L1146.7 132.2 L1142.5 131.9 L1139.9 136.2 L1142.1 139.8 L1142.1 140.8 L1138.3 144.1 L1137.3 144.0 L1134.1 141.3 L1129.4 143.3 L1129.2 147.5 L1128.6 148.2 L1123.6 148.7 L1122.8 148.1 L1121.8 144.0 L1116.8 142.8 L1114.2 146.1 L1113.2 146.4 L1108.9 143.8 L1108.7 142.8 L1110.3 138.9 L1106.9 135.1 L1102.8 136.2 L1101.9 135.8 L1099.9 131.2 L1100.3 130.3 L1103.9 128.1 L1103.4 123.0 L1099.5 121.5 L1099.0 120.6 L1100.1 115.7 L1100.9 115.2 L1105.1 115.5 L1107.7 111.2 L1105.5 107.6 L1105.5 106.6 L1109.3 103.3 L1110.3 103.4 L1113.5 106.1 L1118.2 104.1 L1118.4 99.9 L1119.0 99.2 L1124.0 98.7 L1124.8 99.3 L1125.8 103.4 L1130.8 104.6 L1133.4 101.3 L1134.4 101.0 L1138.7 103.6 L1138.9 104.6 L1137.3 108.5 L1140.7 112.3 L1144.8 111.2 L1145.7 111.6 L1147.7 116.2 L1147.3 117.1 L1143.7 119.3 Z M1140.0 123.7 A16.2 16.2 0 1 0 1107.5 123.7 A16.2 16.2 0 1 0 1140.0 123.7 Z" fill="#bbd0ee" fill-rule="evenodd" stroke="#bbd0ee" stroke-width="1" stroke-linejoin="round"/>
<text transform="translate(1117.4,126.3) rotate(-42)" x="-5.2" y="6" font-size="17.5" font-style="italic" fill="#ee9494" stroke="#ee9494" stroke-width="0.5">Z</text>
<text transform="translate(1129.4,119.9) rotate(-42)" x="-5.6" y="6" font-size="17" fill="#909090" stroke="#909090" stroke-width="0.5">K</text>
<path d="M244.9 346.3 L248.8 347.8 L249.3 348.7 L248.2 353.6 L247.4 354.1 L243.2 353.8 L240.6 358.1 L242.8 361.7 L242.8 362.7 L239.0 366.0 L238.0 365.9 L234.8 363.2 L230.1 365.2 L229.9 369.4 L229.3 370.1 L224.3 370.6 L223.5 370.0 L222.5 365.9 L217.5 364.7 L214.9 368.0 L213.9 368.3 L209.6 365.7 L209.4 364.7 L211.0 360.8 L207.6 357.0 L203.5 358.1 L202.6 357.7 L200.6 353.1 L201.0 352.2 L204.6 350.0 L204.1 344.9 L200.2 343.4 L199.7 342.5 L200.8 337.6 L201.6 337.1 L205.8 337.4 L208.4 333.1 L206.2 329.5 L206.2 328.5 L210.0 325.2 L211.0 325.3 L214.2 328.0 L218.9 326.0 L219.1 321.8 L219.7 321.1 L224.7 320.6 L225.5 321.2 L226.5 325.3 L231.5 326.5 L234.1 323.2 L235.1 322.9 L239.4 325.5 L239.6 326.5 L238.0 330.4 L241.4 334.2 L245.5 333.1 L246.4 333.5 L248.4 338.1 L248.0 339.0 L244.4 341.2 Z M240.8 345.6 A16.2 16.2 0 1 0 208.2 345.6 A16.2 16.2 0 1 0 240.8 345.6 Z" fill="#bbd0ee" fill-rule="evenodd" stroke="#bbd0ee" stroke-width="1" stroke-linejoin="round"/>
<text transform="translate(218.1,348.2) rotate(-42)" x="-5.2" y="6" font-size="17.5" font-style="italic" fill="#ee9494" stroke="#ee9494" stroke-width="0.5">Z</text>
<text transform="translate(230.1,341.8) rotate(-42)" x="-5.6" y="6" font-size="17" fill="#909090" stroke="#909090" stroke-width="0.5">K</text>
<path d="M568.9 346.2 L572.8 347.7 L573.3 348.6 L572.2 353.5 L571.4 354.0 L567.2 353.7 L564.6 358.0 L566.8 361.6 L566.8 362.6 L563.0 365.9 L562.0 365.8 L558.8 363.1 L554.1 365.1 L553.9 369.3 L553.3 370.0 L548.3 370.5 L547.5 369.9 L546.5 365.8 L541.5 364.6 L538.9 367.9 L537.9 368.2 L533.6 365.6 L533.4 364.6 L535.0 360.7 L531.6 356.9 L527.5 358.0 L526.6 357.6 L524.6 353.0 L525.0 352.1 L528.6 349.9 L528.1 344.8 L524.2 343.3 L523.7 342.4 L524.8 337.5 L525.6 337.0 L529.8 337.3 L532.4 333.0 L530.2 329.4 L530.2 328.4 L534.0 325.1 L535.0 325.2 L538.2 327.9 L542.9 325.9 L543.1 321.7 L543.7 321.0 L548.7 320.5 L549.5 321.1 L550.5 325.2 L555.5 326.4 L558.1 323.1 L559.1 322.8 L563.4 325.4 L563.6 326.4 L562.0 330.3 L565.4 334.1 L569.5 333.0 L570.4 333.4 L572.4 338.0 L572.0 338.9 L568.4 341.1 Z M564.8 345.5 A16.2 16.2 0 1 0 532.2 345.5 A16.2 16.2 0 1 0 564.8 345.5 Z" fill="#bbd0ee" fill-rule="evenodd" stroke="#bbd0ee" stroke-width="1" stroke-linejoin="round"/>
<text transform="translate(542.1,348.1) rotate(-42)" x="-5.2" y="6" font-size="17.5" font-style="italic" fill="#ee9494" stroke="#ee9494" stroke-width="0.5">Z</text>
<text transform="translate(554.1,341.7) rotate(-42)" x="-5.6" y="6" font-size="17" fill="#909090" stroke="#909090" stroke-width="0.5">K</text>
<path d="M923.4 347.7 L927.3 349.2 L927.8 350.1 L926.7 355.0 L925.9 355.5 L921.7 355.2 L919.1 359.5 L921.3 363.1 L921.3 364.1 L917.5 367.4 L916.5 367.3 L913.3 364.6 L908.6 366.6 L908.4 370.8 L907.8 371.5 L902.8 372.0 L902.0 371.4 L901.0 367.3 L896.0 366.1 L893.4 369.4 L892.4 369.7 L888.1 367.1 L887.9 366.1 L889.5 362.2 L886.1 358.4 L882.0 359.5 L881.1 359.1 L879.1 354.5 L879.5 353.6 L883.1 351.4 L882.6 346.3 L878.7 344.8 L878.2 343.9 L879.3 339.0 L880.1 338.5 L884.3 338.8 L886.9 334.5 L884.7 330.9 L884.7 329.9 L888.5 326.6 L889.5 326.7 L892.7 329.4 L897.4 327.4 L897.6 323.2 L898.2 322.5 L903.2 322.0 L904.0 322.6 L905.0 326.7 L910.0 327.9 L912.6 324.6 L913.6 324.3 L917.9 326.9 L918.1 327.9 L916.5 331.8 L919.9 335.6 L924.0 334.5 L924.9 334.9 L926.9 339.5 L926.5 340.4 L922.9 342.6 Z M919.2 347.0 A16.2 16.2 0 1 0 886.8 347.0 A16.2 16.2 0 1 0 919.2 347.0 Z" fill="#bbd0ee" fill-rule="evenodd" stroke="#bbd0ee" stroke-width="1" stroke-linejoin="round"/>
<text transform="translate(896.6,349.6) rotate(-42)" x="-5.2" y="6" font-size="17.5" font-style="italic" fill="#ee9494" stroke="#ee9494" stroke-width="0.5">Z</text>
<text transform="translate(908.6,343.2) rotate(-42)" x="-5.6" y="6" font-size="17" fill="#909090" stroke="#909090" stroke-width="0.5">K</text>
<path d="M10.4 575.7 L14.3 577.2 L14.8 578.1 L13.7 583.0 L12.9 583.5 L8.7 583.2 L6.1 587.5 L8.3 591.1 L8.3 592.1 L4.5 595.4 L3.5 595.3 L0.3 592.6 L-4.4 594.6 L-4.6 598.8 L-5.2 599.5 L-10.2 600.0 L-11.0 599.4 L-12.0 595.3 L-17.0 594.1 L-19.6 597.4 L-20.6 597.7 L-24.9 595.1 L-25.1 594.1 L-23.5 590.2 L-26.9 586.4 L-31.0 587.5 L-31.9 587.1 L-33.9 582.5 L-33.5 581.6 L-29.9 579.4 L-30.4 574.3 L-34.3 572.8 L-34.8 571.9 L-33.7 567.0 L-32.9 566.5 L-28.7 566.8 L-26.1 562.5 L-28.3 558.9 L-28.3 557.9 L-24.5 554.6 L-23.5 554.7 L-20.3 557.4 L-15.6 555.4 L-15.4 551.2 L-14.8 550.5 L-9.8 550.0 L-9.0 550.6 L-8.0 554.7 L-3.0 555.9 L-0.4 552.6 L0.6 552.3 L4.9 554.9 L5.1 555.9 L3.5 559.8 L6.9 563.6 L11.0 562.5 L11.9 562.9 L13.9 567.5 L13.5 568.4 L9.9 570.6 Z M6.2 575.0 A16.2 16.2 0 1 0 -26.2 575.0 A16.2 16.2 0 1 0 6.2 575.0 Z" fill="#bbd0ee" fill-rule="evenodd" stroke="#bbd0ee" stroke-width="1" stroke-linejoin="round"/>
<text transform="translate(-16.4,577.6) rotate(-42)" x="-5.2" y="6" font-size="17.5" font-style="italic" fill="#ee9494" stroke="#ee9494" stroke-width="0.5">Z</text>
<text transform="translate(-4.4,571.2) rotate(-42)" x="-5.6" y="6" font-size="17" fill="#909090" stroke="#909090" stroke-width="0.5">K</text>
<path d="M326.4 575.7 L330.3 577.2 L330.8 578.1 L329.7 583.0 L328.9 583.5 L324.7 583.2 L322.1 587.5 L324.3 591.1 L324.3 592.1 L320.5 595.4 L319.5 595.3 L316.3 592.6 L311.6 594.6 L311.4 598.8 L310.8 599.5 L305.8 600.0 L305.0 599.4 L304.0 595.3 L299.0 594.1 L296.4 597.4 L295.4 597.7 L291.1 595.1 L290.9 594.1 L292.5 590.2 L289.1 586.4 L285.0 587.5 L284.1 587.1 L282.1 582.5 L282.5 581.6 L286.1 579.4 L285.6 574.3 L281.7 572.8 L281.2 571.9 L282.3 567.0 L283.1 566.5 L287.3 566.8 L289.9 562.5 L287.7 558.9 L287.7 557.9 L291.5 554.6 L292.5 554.7 L295.7 557.4 L300.4 555.4 L300.6 551.2 L301.2 550.5 L306.2 550.0 L307.0 550.6 L308.0 554.7 L313.0 555.9 L315.6 552.6 L316.6 552.3 L320.9 554.9 L321.1 555.9 L319.5 559.8 L322.9 563.6 L327.0 562.5 L327.9 562.9 L329.9 567.5 L329.5 568.4 L325.9 570.6 Z M322.2 575.0 A16.2 16.2 0 1 0 289.8 575.0 A16.2 16.2 0 1 0 322.2 575.0 Z" fill="#bbd0ee" fill-rule="evenodd" stroke="#bbd0ee" stroke-width="1" stroke-linejoin="round"/>
<text transform="translate(299.6,577.6) rotate(-42)" x="-5.2" y="6" font-size="17.5" font-style="italic" fill="#ee9494" stroke="#ee9494" stroke-width="0.5">Z</text>
<text transform="translate(311.6,571.2) rotate(-42)" x="-5.6" y="6" font-size="17" fill="#909090" stroke="#909090" stroke-width="0.5">K</text>
<path d="M682.9 575.7 L686.8 577.2 L687.3 578.1 L686.2 583.0 L685.4 583.5 L681.2 583.2 L678.6 587.5 L680.8 591.1 L680.8 592.1 L677.0 595.4 L676.0 595.3 L672.8 592.6 L668.1 594.6 L667.9 598.8 L667.3 599.5 L662.3 600.0 L661.5 599.4 L660.5 595.3 L655.5 594.1 L652.9 597.4 L651.9 597.7 L647.6 595.1 L647.4 594.1 L649.0 590.2 L645.6 586.4 L641.5 587.5 L640.6 587.1 L638.6 582.5 L639.0 581.6 L642.6 579.4 L642.1 574.3 L638.2 572.8 L637.7 571.9 L638.8 567.0 L639.6 566.5 L643.8 566.8 L646.4 562.5 L644.2 558.9 L644.2 557.9 L648.0 554.6 L649.0 554.7 L652.2 557.4 L656.9 555.4 L657.1 551.2 L657.7 550.5 L662.7 550.0 L663.5 550.6 L664.5 554.7 L669.5 555.9 L672.1 552.6 L673.1 552.3 L677.4 554.9 L677.6 555.9 L676.0 559.8 L679.4 563.6 L683.5 562.5 L684.4 562.9 L686.4 567.5 L686.0 568.4 L682.4 570.6 Z M678.8 575.0 A16.2 16.2 0 1 0 646.2 575.0 A16.2 16.2 0 1 0 678.8 575.0 Z" fill="#bbd0ee" fill-rule="evenodd" stroke="#bbd0ee" stroke-width="1" stroke-linejoin="round"/>
<text transform="translate(656.1,577.6) rotate(-42)" x="-5.2" y="6" font-size="17.5" font-style="italic" fill="#ee9494" stroke="#ee9494" stroke-width="0.5">Z</text>
<text transform="translate(668.1,571.2) rotate(-42)" x="-5.6" y="6" font-size="17" fill="#909090" stroke="#909090" stroke-width="0.5">K</text>
<path d="M1077.9 558.2 L1081.8 559.7 L1082.3 560.6 L1081.2 565.5 L1080.4 566.0 L1076.2 565.7 L1073.6 570.0 L1075.8 573.6 L1075.8 574.6 L1072.0 577.9 L1071.0 577.8 L1067.8 575.1 L1063.1 577.1 L1062.9 581.3 L1062.3 582.0 L1057.3 582.5 L1056.5 581.9 L1055.5 577.8 L1050.5 576.6 L1047.9 579.9 L1046.9 580.2 L1042.6 577.6 L1042.4 576.6 L1044.0 572.7 L1040.6 568.9 L1036.5 570.0 L1035.6 569.6 L1033.6 565.0 L1034.0 564.1 L1037.6 561.9 L1037.1 556.8 L1033.2 555.3 L1032.7 554.4 L1033.8 549.5 L1034.6 549.0 L1038.8 549.3 L1041.4 545.0 L1039.2 541.4 L1039.2 540.4 L1043.0 537.1 L1044.0 537.2 L1047.2 539.9 L1051.9 537.9 L1052.1 533.7 L1052.7 533.0 L1057.7 532.5 L1058.5 533.1 L1059.5 537.2 L1064.5 538.4 L1067.1 535.1 L1068.1 534.8 L1072.4 537.4 L1072.6 538.4 L1071.0 542.3 L1074.4 546.1 L1078.5 545.0 L1079.4 545.4 L1081.4 550.0 L1081.0 550.9 L1077.4 553.1 Z M1073.8 557.5 A16.2 16.2 0 1 0 1041.2 557.5 A16.2 16.2 0 1 0 1073.8 557.5 Z" fill="#bbd0ee" fill-rule="evenodd" stroke="#bbd0ee" stroke-width="1" stroke-linejoin="round"/>
<text transform="translate(1051.1,560.1) rotate(-42)" x="-5.2" y="6" font-size="17.5" font-style="italic" fill="#ee9494" stroke="#ee9494" stroke-width="0.5">Z</text>
<text transform="translate(1063.1,553.7) rotate(-42)" x="-5.6" y="6" font-size="17" fill="#909090" stroke="#909090" stroke-width="0.5">K</text>
<g transform="translate(124,90) rotate(-43.8)"><text class="wm" x="2.5" y="10.6" text-anchor="middle" font-size="28.0" fill="#aeaeae" letter-spacing="5.0">郑矿机器</text><text class="wms" x="4" y="24.6" text-anchor="middle" font-size="7.4" fill="#828282" font-weight="bold" textLength="127" lengthAdjust="spacing">ZHENGZHOU MINING MACHINERY</text></g>
<g transform="translate(516.5,47.3) rotate(-43.8)"><text class="wm" x="2.5" y="10.6" text-anchor="middle" font-size="28.0" fill="#aeaeae" letter-spacing="5.0">郑矿机器</text><text class="wms" x="4" y="24.6" text-anchor="middle" font-size="7.4" fill="#828282" font-weight="bold" textLength="127" lengthAdjust="spacing">ZHENGZHOU MINING MACHINERY</text></g>
<g transform="translate(840,49.2) rotate(-43.8)"><text class="wm" x="2.5" y="10.6" text-anchor="middle" font-size="28.0" fill="#aeaeae" letter-spacing="5.0">郑矿机器</text><text class="wms" x="4" y="24.6" text-anchor="middle" font-size="7.4" fill="#828282" font-weight="bold" textLength="127" lengthAdjust="spacing">ZHENGZHOU MINING MACHINERY</text></g>
<g transform="translate(1196.5,45) rotate(-43.8)"><text class="wm" x="2.5" y="10.6" text-anchor="middle" font-size="28.0" fill="#aeaeae" letter-spacing="5.0">郑矿机器</text><text class="wms" x="4" y="24.6" text-anchor="middle" font-size="7.4" fill="#828282" font-weight="bold" textLength="127" lengthAdjust="spacing">ZHENGZHOU MINING MACHINERY</text></g>
<g transform="translate(295,270) rotate(-43.8)"><text class="wm" x="2.5" y="10.6" text-anchor="middle" font-size="28.0" fill="#aeaeae" letter-spacing="5.0">郑矿机器</text><text class="wms" x="4" y="24.6" text-anchor="middle" font-size="7.4" fill="#828282" font-weight="bold" textLength="127" lengthAdjust="spacing">ZHENGZHOU MINING MACHINERY</text></g>
<g transform="translate(617,272) rotate(-43.8)"><text class="wm" x="2.5" y="10.6" text-anchor="middle" font-size="28.0" fill="#aeaeae" letter-spacing="5.0">郑矿机器</text><text class="wms" x="4" y="24.6" text-anchor="middle" font-size="7.4" fill="#828282" font-weight="bold" textLength="127" lengthAdjust="spacing">ZHENGZHOU MINING MACHINERY</text></g>
<g transform="translate(972,268.8) rotate(-43.8)"><text class="wm" x="2.5" y="10.6" text-anchor="middle" font-size="28.0" fill="#aeaeae" letter-spacing="5.0">郑矿机器</text><text class="wms" x="4" y="24.6" text-anchor="middle" font-size="7.4" fill="#828282" font-weight="bold" textLength="127" lengthAdjust="spacing">ZHENGZHOU MINING MACHINERY</text></g>
<g transform="translate(53,505.6) rotate(-43.8)"><text class="wm" x="2.5" y="10.6" text-anchor="middle" font-size="28.0" fill="#aeaeae" letter-spacing="5.0">郑矿机器</text><text class="wms" x="4" y="24.6" text-anchor="middle" font-size="7.4" fill="#828282" font-weight="bold" textLength="127" lengthAdjust="spacing">ZHENGZHOU MINING MACHINERY</text></g>
<g transform="translate(376.5,502.5) rotate(-43.8)"><text class="wm" x="2.5" y="10.6" text-anchor="middle" font-size="28.0" fill="#aeaeae" letter-spacing="5.0">郑矿机器</text><text class="wms" x="4" y="24.6" text-anchor="middle" font-size="7.4" fill="#828282" font-weight="bold" textLength="127" lengthAdjust="spacing">ZHENGZHOU MINING MACHINERY</text></g>
<g transform="translate(732,503.7) rotate(-43.8)"><text class="wm" x="2.5" y="10.6" text-anchor="middle" font-size="28.0" fill="#aeaeae" letter-spacing="5.0">郑矿机器</text><text class="wms" x="4" y="24.6" text-anchor="middle" font-size="7.4" fill="#828282" font-weight="bold" textLength="127" lengthAdjust="spacing">ZHENGZHOU MINING MACHINERY</text></g>
<g transform="translate(1125.6,482) rotate(-43.8)"><text class="wm" x="2.5" y="10.6" text-anchor="middle" font-size="28.0" fill="#aeaeae" letter-spacing="5.0">郑矿机器</text><text class="wms" x="4" y="24.6" text-anchor="middle" font-size="7.4" fill="#828282" font-weight="bold" textLength="127" lengthAdjust="spacing">ZHENGZHOU MINING MACHINERY</text></g>
</g>
</svg>
</body>
</html>
